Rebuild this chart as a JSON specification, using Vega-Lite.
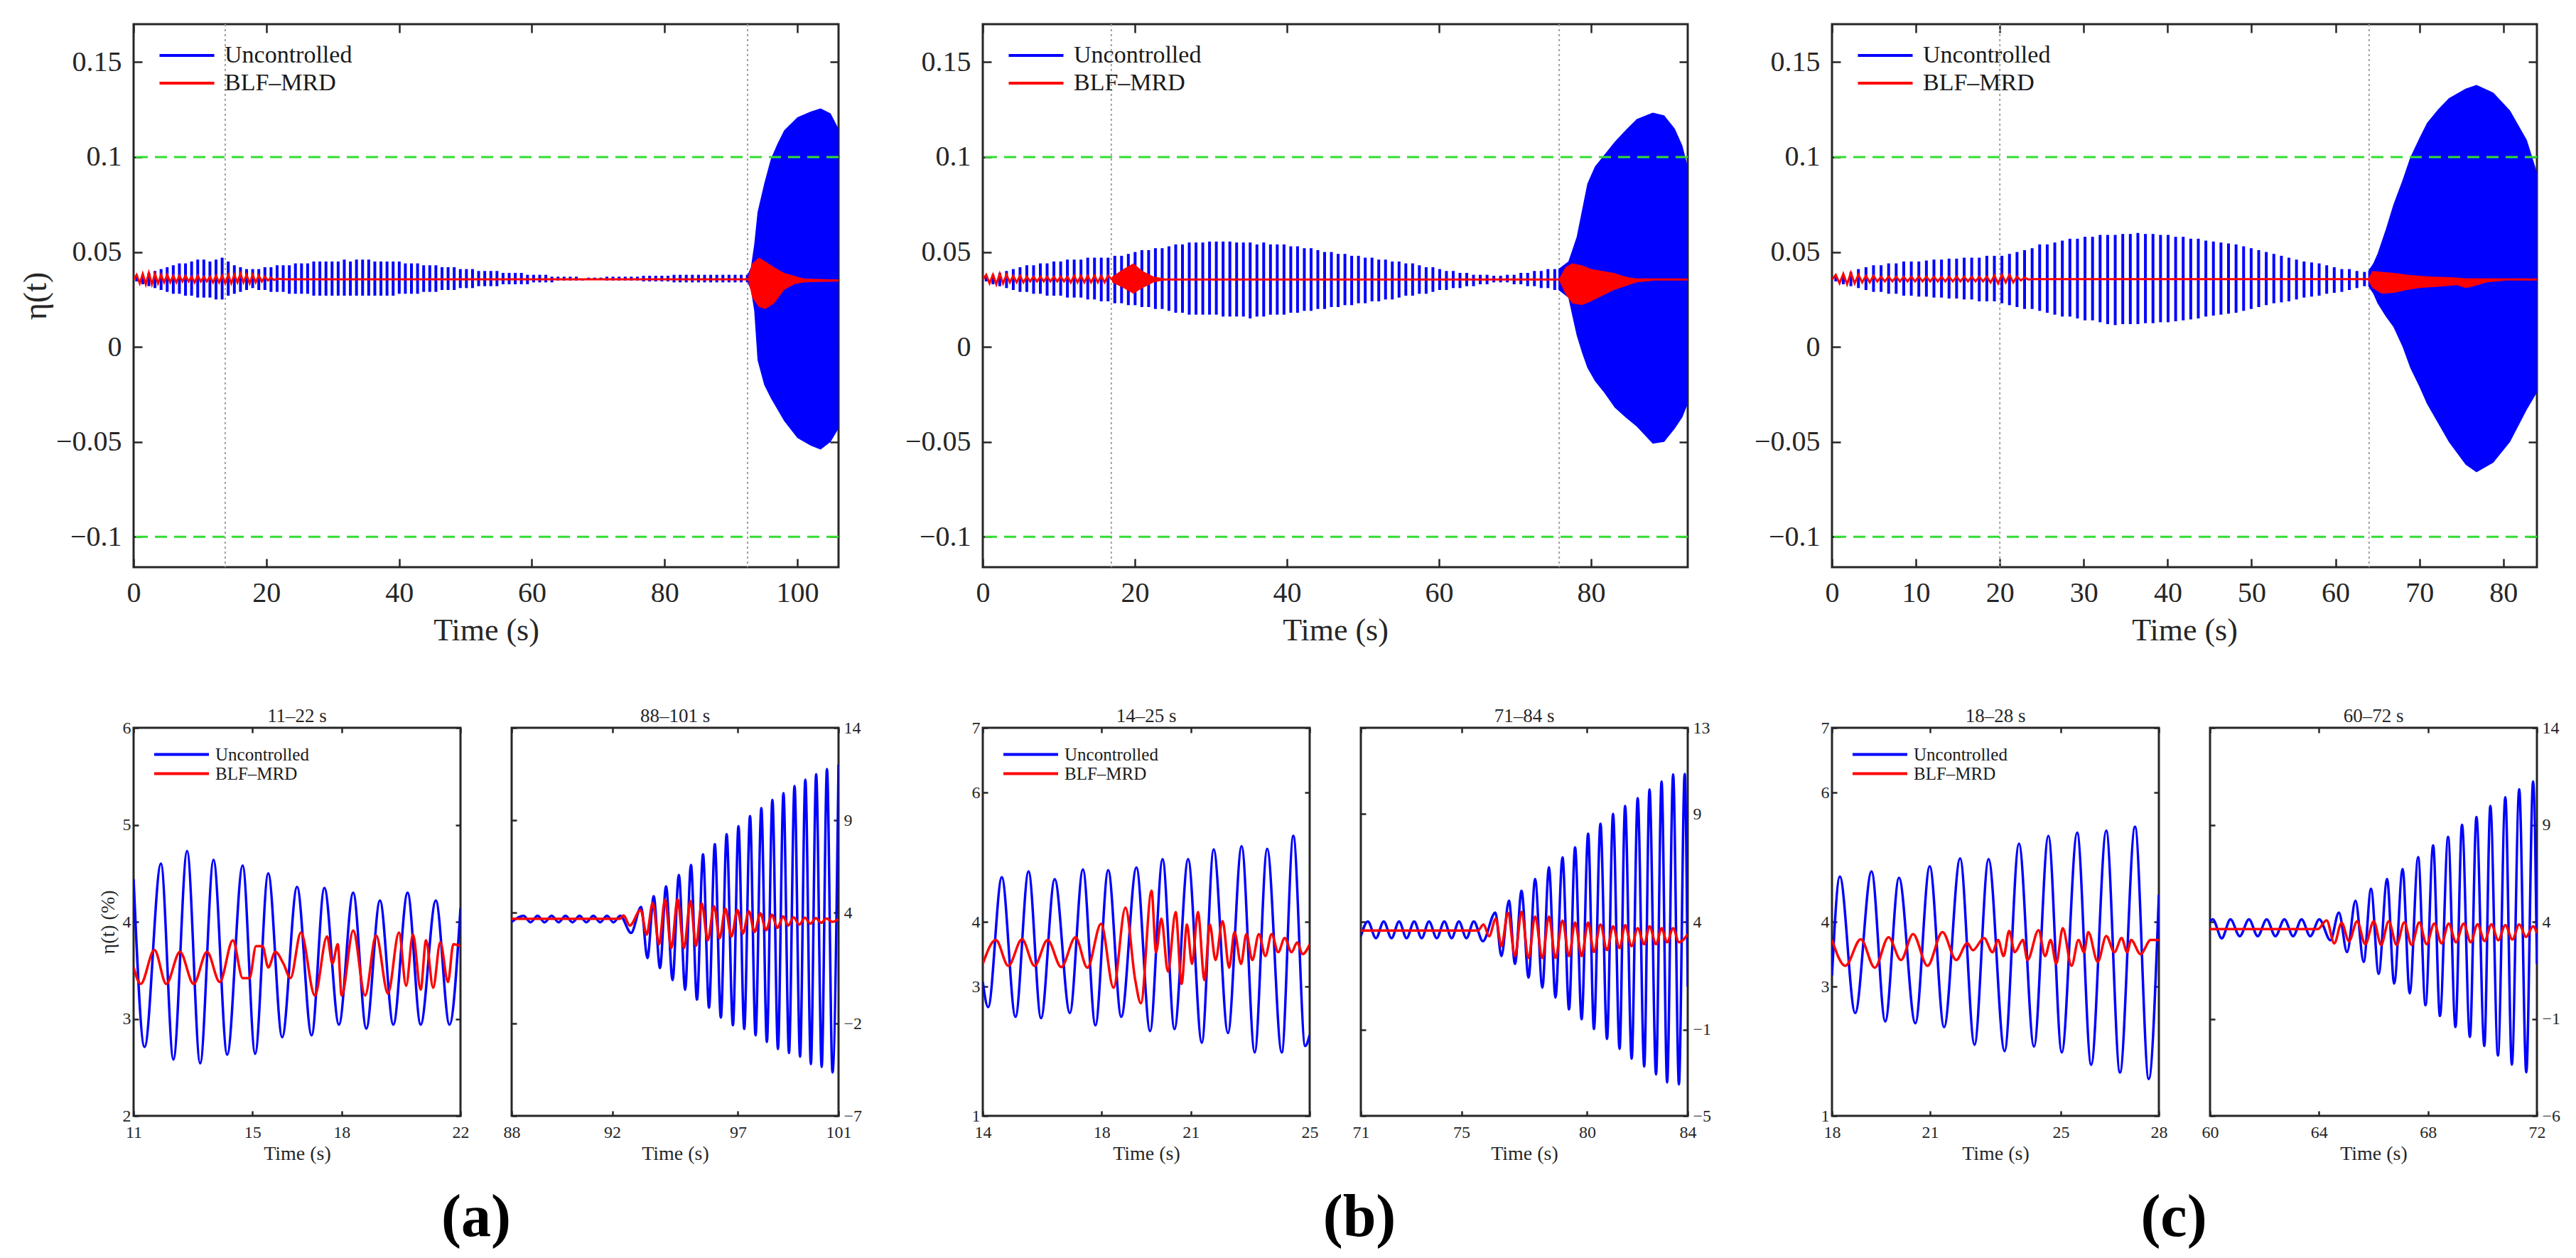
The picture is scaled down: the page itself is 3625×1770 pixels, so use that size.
{
"$schema":"https://vega.github.io/schema/vega-lite/v6.json",
"padding":{"left":25,"top":31,"right":10,"bottom":10},
"background":"white",
"bounds":"flush",
"spacing":990,
"config":{
 "view":{"stroke":"#262626","strokeWidth":3},
 "font":"Liberation Serif",
 "axis":{"grid":false,"domain":false,"labelFont":"Liberation Serif","titleFont":"Liberation Serif","labelColor":"#262626","titleColor":"#262626","tickColor":"#262626","tickWidth":2.5,"titleFontWeight":"normal","labelFlush":false,"labelOverlap":false},
 "legend":{"labelFont":"Liberation Serif","labelColor":"#1a1a1a","padding":0,"labelLimit":0},
 "title":{"font":"Liberation Serif","fontWeight":"normal","color":"#262626"}
},
"datasets":{
 "thr":[{"g":0.1},{"g":-0.1}],
 "vl":[{"p":"a","t":13.8},{"p":"a","t":92.5},{"p":"b","t":16.9},{"p":"b","t":75.8},{"p":"c","t":20},{"p":"c","t":64}],
 "bars":[
{"p":"a","t":0.46,"l":0.0345,"h":0.0375},{"p":"a","t":1.38,"l":0.033,"h":0.038},{"p":"a","t":2.30,"l":0.032,"h":0.039},{"p":"a","t":3.22,"l":0.031,"h":0.040},{"p":"a","t":4.14,"l":0.030,"h":0.041},{"p":"a","t":5.06,"l":0.029,"h":0.042},{"p":"a","t":5.98,"l":0.028,"h":0.043},{"p":"a","t":6.90,"l":0.028,"h":0.044},{"p":"a","t":7.82,"l":0.027,"h":0.044},{"p":"a","t":8.74,"l":0.027,"h":0.045},
{"p":"a","t":9.66,"l":0.026,"h":0.046},{"p":"a","t":10.58,"l":0.026,"h":0.046},{"p":"a","t":11.50,"l":0.026,"h":0.045},{"p":"a","t":12.42,"l":0.025,"h":0.046},{"p":"a","t":13.34,"l":0.025,"h":0.047},{"p":"a","t":14.26,"l":0.027,"h":0.045},{"p":"a","t":15.18,"l":0.028,"h":0.043},{"p":"a","t":16.10,"l":0.029,"h":0.042},{"p":"a","t":17.02,"l":0.030,"h":0.041},{"p":"a","t":17.94,"l":0.031,"h":0.041},
{"p":"a","t":18.86,"l":0.030,"h":0.041},{"p":"a","t":19.78,"l":0.030,"h":0.042},{"p":"a","t":20.70,"l":0.029,"h":0.042},{"p":"a","t":21.62,"l":0.029,"h":0.043},{"p":"a","t":22.54,"l":0.029,"h":0.043},{"p":"a","t":23.46,"l":0.028,"h":0.043},{"p":"a","t":24.38,"l":0.028,"h":0.044},{"p":"a","t":25.30,"l":0.028,"h":0.044},{"p":"a","t":26.22,"l":0.028,"h":0.044},{"p":"a","t":27.14,"l":0.027,"h":0.045},
{"p":"a","t":28.06,"l":0.027,"h":0.045},{"p":"a","t":28.98,"l":0.027,"h":0.045},{"p":"a","t":29.90,"l":0.027,"h":0.045},{"p":"a","t":30.82,"l":0.027,"h":0.045},{"p":"a","t":31.74,"l":0.027,"h":0.046},{"p":"a","t":32.66,"l":0.027,"h":0.045},{"p":"a","t":33.58,"l":0.027,"h":0.046},{"p":"a","t":34.50,"l":0.027,"h":0.046},{"p":"a","t":35.42,"l":0.027,"h":0.046},{"p":"a","t":36.34,"l":0.027,"h":0.045},
{"p":"a","t":37.26,"l":0.027,"h":0.045},{"p":"a","t":38.18,"l":0.027,"h":0.045},{"p":"a","t":39.10,"l":0.027,"h":0.045},{"p":"a","t":40.02,"l":0.028,"h":0.045},{"p":"a","t":40.94,"l":0.028,"h":0.044},{"p":"a","t":41.86,"l":0.028,"h":0.044},{"p":"a","t":42.78,"l":0.028,"h":0.044},{"p":"a","t":43.70,"l":0.029,"h":0.043},{"p":"a","t":44.62,"l":0.029,"h":0.043},{"p":"a","t":45.54,"l":0.029,"h":0.043},
{"p":"a","t":46.46,"l":0.030,"h":0.042},{"p":"a","t":47.38,"l":0.030,"h":0.042},{"p":"a","t":48.30,"l":0.030,"h":0.042},{"p":"a","t":49.22,"l":0.031,"h":0.041},{"p":"a","t":50.14,"l":0.031,"h":0.041},{"p":"a","t":51.06,"l":0.031,"h":0.041},{"p":"a","t":51.98,"l":0.032,"h":0.040},{"p":"a","t":52.90,"l":0.032,"h":0.040},{"p":"a","t":53.82,"l":0.032,"h":0.040},{"p":"a","t":54.74,"l":0.032,"h":0.040},
{"p":"a","t":55.66,"l":0.033,"h":0.039},{"p":"a","t":56.58,"l":0.033,"h":0.039},{"p":"a","t":57.50,"l":0.033,"h":0.039},{"p":"a","t":58.42,"l":0.033,"h":0.039},{"p":"a","t":59.34,"l":0.033,"h":0.038},{"p":"a","t":60.26,"l":0.034,"h":0.038},{"p":"a","t":61.18,"l":0.034,"h":0.038},{"p":"a","t":62.10,"l":0.034,"h":0.038},{"p":"a","t":63.02,"l":0.034,"h":0.037},{"p":"a","t":63.94,"l":0.035,"h":0.037},
{"p":"a","t":64.86,"l":0.035,"h":0.037},{"p":"a","t":65.78,"l":0.035,"h":0.037},{"p":"a","t":66.70,"l":0.035,"h":0.037},{"p":"a","t":67.62,"l":0.035,"h":0.036},{"p":"a","t":68.54,"l":0.0355,"h":0.0365},{"p":"a","t":69.46,"l":0.0355,"h":0.0365},{"p":"a","t":70.38,"l":0.0355,"h":0.0365},{"p":"a","t":71.30,"l":0.035,"h":0.037},{"p":"a","t":72.22,"l":0.035,"h":0.037},{"p":"a","t":73.14,"l":0.035,"h":0.037},
{"p":"a","t":74.06,"l":0.035,"h":0.037},{"p":"a","t":74.98,"l":0.035,"h":0.037},{"p":"a","t":75.90,"l":0.035,"h":0.037},{"p":"a","t":76.82,"l":0.0345,"h":0.0375},{"p":"a","t":77.74,"l":0.0345,"h":0.0375},{"p":"a","t":78.66,"l":0.0345,"h":0.0375},{"p":"a","t":79.58,"l":0.0345,"h":0.0375},{"p":"a","t":80.50,"l":0.0345,"h":0.0375},{"p":"a","t":81.42,"l":0.034,"h":0.038},{"p":"a","t":82.34,"l":0.034,"h":0.038},
{"p":"a","t":83.26,"l":0.034,"h":0.038},{"p":"a","t":84.18,"l":0.034,"h":0.038},{"p":"a","t":85.10,"l":0.034,"h":0.038},{"p":"a","t":86.02,"l":0.034,"h":0.038},{"p":"a","t":86.94,"l":0.034,"h":0.038},{"p":"a","t":87.86,"l":0.034,"h":0.038},{"p":"a","t":88.78,"l":0.034,"h":0.038},{"p":"a","t":89.70,"l":0.034,"h":0.038},{"p":"a","t":90.62,"l":0.034,"h":0.038},{"p":"a","t":91.54,"l":0.034,"h":0.038},{"p":"a","t":92.46,"l":0.034,"h":0.038},
{"p":"b","t":0.45,"l":0.0345,"h":0.0375},{"p":"b","t":1.34,"l":0.033,"h":0.038},{"p":"b","t":2.23,"l":0.032,"h":0.039},{"p":"b","t":3.12,"l":0.031,"h":0.040},{"p":"b","t":4.01,"l":0.030,"h":0.041},{"p":"b","t":4.90,"l":0.029,"h":0.042},{"p":"b","t":5.79,"l":0.029,"h":0.043},{"p":"b","t":6.68,"l":0.028,"h":0.043},{"p":"b","t":7.57,"l":0.028,"h":0.044},{"p":"b","t":8.46,"l":0.027,"h":0.044},
{"p":"b","t":9.35,"l":0.027,"h":0.045},{"p":"b","t":10.24,"l":0.027,"h":0.045},{"p":"b","t":11.13,"l":0.026,"h":0.046},{"p":"b","t":12.02,"l":0.026,"h":0.046},{"p":"b","t":12.91,"l":0.026,"h":0.046},{"p":"b","t":13.80,"l":0.025,"h":0.047},{"p":"b","t":14.69,"l":0.025,"h":0.047},{"p":"b","t":15.58,"l":0.024,"h":0.047},{"p":"b","t":16.47,"l":0.024,"h":0.047},{"p":"b","t":17.36,"l":0.023,"h":0.048},
{"p":"b","t":18.25,"l":0.023,"h":0.048},{"p":"b","t":19.14,"l":0.022,"h":0.049},{"p":"b","t":20.03,"l":0.022,"h":0.050},{"p":"b","t":20.92,"l":0.021,"h":0.051},{"p":"b","t":21.81,"l":0.021,"h":0.051},{"p":"b","t":22.70,"l":0.020,"h":0.052},{"p":"b","t":23.59,"l":0.020,"h":0.052},{"p":"b","t":24.48,"l":0.019,"h":0.053},{"p":"b","t":25.37,"l":0.018,"h":0.054},{"p":"b","t":26.26,"l":0.018,"h":0.054},
{"p":"b","t":27.15,"l":0.017,"h":0.055},{"p":"b","t":28.04,"l":0.017,"h":0.055},{"p":"b","t":28.93,"l":0.017,"h":0.055},{"p":"b","t":29.82,"l":0.017,"h":0.0555},{"p":"b","t":30.71,"l":0.017,"h":0.0555},{"p":"b","t":31.60,"l":0.016,"h":0.0555},{"p":"b","t":32.49,"l":0.016,"h":0.0555},{"p":"b","t":33.38,"l":0.016,"h":0.055},{"p":"b","t":34.27,"l":0.016,"h":0.055},{"p":"b","t":35.16,"l":0.015,"h":0.055},
{"p":"b","t":36.05,"l":0.016,"h":0.054},{"p":"b","t":36.94,"l":0.016,"h":0.055},{"p":"b","t":37.83,"l":0.017,"h":0.054},{"p":"b","t":38.72,"l":0.017,"h":0.054},{"p":"b","t":39.61,"l":0.017,"h":0.054},{"p":"b","t":40.50,"l":0.018,"h":0.053},{"p":"b","t":41.39,"l":0.018,"h":0.053},{"p":"b","t":42.28,"l":0.019,"h":0.052},{"p":"b","t":43.17,"l":0.019,"h":0.052},{"p":"b","t":44.06,"l":0.020,"h":0.051},
{"p":"b","t":44.95,"l":0.020,"h":0.050},{"p":"b","t":45.84,"l":0.021,"h":0.050},{"p":"b","t":46.73,"l":0.021,"h":0.049},{"p":"b","t":47.62,"l":0.022,"h":0.049},{"p":"b","t":48.51,"l":0.022,"h":0.048},{"p":"b","t":49.40,"l":0.023,"h":0.048},{"p":"b","t":50.29,"l":0.023,"h":0.047},{"p":"b","t":51.18,"l":0.024,"h":0.047},{"p":"b","t":52.07,"l":0.024,"h":0.046},{"p":"b","t":52.96,"l":0.025,"h":0.046},
{"p":"b","t":53.85,"l":0.025,"h":0.045},{"p":"b","t":54.74,"l":0.026,"h":0.045},{"p":"b","t":55.63,"l":0.027,"h":0.044},{"p":"b","t":56.52,"l":0.027,"h":0.044},{"p":"b","t":57.41,"l":0.028,"h":0.043},{"p":"b","t":58.30,"l":0.028,"h":0.042},{"p":"b","t":59.19,"l":0.029,"h":0.042},{"p":"b","t":60.08,"l":0.030,"h":0.041},{"p":"b","t":60.97,"l":0.030,"h":0.040},{"p":"b","t":61.86,"l":0.031,"h":0.040},
{"p":"b","t":62.75,"l":0.031,"h":0.039},{"p":"b","t":63.64,"l":0.032,"h":0.039},{"p":"b","t":64.53,"l":0.032,"h":0.038},{"p":"b","t":65.42,"l":0.033,"h":0.038},{"p":"b","t":66.31,"l":0.033,"h":0.038},{"p":"b","t":67.20,"l":0.034,"h":0.0375},{"p":"b","t":68.09,"l":0.034,"h":0.0375},{"p":"b","t":68.98,"l":0.034,"h":0.038},{"p":"b","t":69.87,"l":0.033,"h":0.038},{"p":"b","t":70.76,"l":0.033,"h":0.039},
{"p":"b","t":71.65,"l":0.032,"h":0.039},{"p":"b","t":72.54,"l":0.032,"h":0.040},{"p":"b","t":73.43,"l":0.031,"h":0.040},{"p":"b","t":74.32,"l":0.031,"h":0.041},{"p":"b","t":75.21,"l":0.030,"h":0.041},
{"p":"c","t":0.45,"l":0.0345,"h":0.037},{"p":"c","t":1.35,"l":0.033,"h":0.038},{"p":"c","t":2.25,"l":0.032,"h":0.0395},{"p":"c","t":3.15,"l":0.031,"h":0.041},{"p":"c","t":4.05,"l":0.030,"h":0.042},{"p":"c","t":4.95,"l":0.029,"h":0.043},{"p":"c","t":5.85,"l":0.029,"h":0.043},{"p":"c","t":6.75,"l":0.028,"h":0.044},{"p":"c","t":7.65,"l":0.028,"h":0.044},{"p":"c","t":8.55,"l":0.027,"h":0.045},
{"p":"c","t":9.45,"l":0.027,"h":0.045},{"p":"c","t":10.35,"l":0.0265,"h":0.045},{"p":"c","t":11.25,"l":0.0265,"h":0.0455},{"p":"c","t":12.15,"l":0.026,"h":0.046},{"p":"c","t":13.05,"l":0.026,"h":0.046},{"p":"c","t":13.95,"l":0.0255,"h":0.0465},{"p":"c","t":14.85,"l":0.0255,"h":0.0465},{"p":"c","t":15.75,"l":0.025,"h":0.047},{"p":"c","t":16.65,"l":0.025,"h":0.047},{"p":"c","t":17.55,"l":0.024,"h":0.047},
{"p":"c","t":18.45,"l":0.024,"h":0.048},{"p":"c","t":19.35,"l":0.024,"h":0.048},{"p":"c","t":20.25,"l":0.023,"h":0.048},{"p":"c","t":21.15,"l":0.022,"h":0.049},{"p":"c","t":22.05,"l":0.021,"h":0.050},{"p":"c","t":22.95,"l":0.020,"h":0.051},{"p":"c","t":23.85,"l":0.020,"h":0.052},{"p":"c","t":24.75,"l":0.019,"h":0.054},{"p":"c","t":25.65,"l":0.018,"h":0.054},{"p":"c","t":26.55,"l":0.017,"h":0.055},
{"p":"c","t":27.45,"l":0.016,"h":0.056},{"p":"c","t":28.35,"l":0.016,"h":0.057},{"p":"c","t":29.25,"l":0.015,"h":0.057},{"p":"c","t":30.15,"l":0.014,"h":0.058},{"p":"c","t":31.05,"l":0.014,"h":0.058},{"p":"c","t":31.95,"l":0.013,"h":0.059},{"p":"c","t":32.85,"l":0.012,"h":0.059},{"p":"c","t":33.75,"l":0.0115,"h":0.059},{"p":"c","t":34.65,"l":0.012,"h":0.0595},{"p":"c","t":35.55,"l":0.012,"h":0.0595},
{"p":"c","t":36.45,"l":0.012,"h":0.060},{"p":"c","t":37.35,"l":0.0125,"h":0.0595},{"p":"c","t":38.25,"l":0.0125,"h":0.0595},{"p":"c","t":39.15,"l":0.013,"h":0.059},{"p":"c","t":40.05,"l":0.013,"h":0.059},{"p":"c","t":40.95,"l":0.0135,"h":0.058},{"p":"c","t":41.85,"l":0.014,"h":0.058},{"p":"c","t":42.75,"l":0.0145,"h":0.057},{"p":"c","t":43.65,"l":0.015,"h":0.057},{"p":"c","t":44.55,"l":0.016,"h":0.056},
{"p":"c","t":45.45,"l":0.0165,"h":0.0555},{"p":"c","t":46.35,"l":0.017,"h":0.055},{"p":"c","t":47.25,"l":0.0175,"h":0.0545},{"p":"c","t":48.15,"l":0.018,"h":0.054},{"p":"c","t":49.05,"l":0.019,"h":0.053},{"p":"c","t":49.95,"l":0.020,"h":0.052},{"p":"c","t":50.85,"l":0.021,"h":0.051},{"p":"c","t":51.75,"l":0.022,"h":0.050},{"p":"c","t":52.65,"l":0.023,"h":0.049},{"p":"c","t":53.55,"l":0.0235,"h":0.048},
{"p":"c","t":54.45,"l":0.024,"h":0.047},{"p":"c","t":55.35,"l":0.025,"h":0.046},{"p":"c","t":56.25,"l":0.026,"h":0.045},{"p":"c","t":57.15,"l":0.0265,"h":0.0445},{"p":"c","t":58.05,"l":0.027,"h":0.044},{"p":"c","t":58.95,"l":0.028,"h":0.043},{"p":"c","t":59.85,"l":0.0285,"h":0.042},{"p":"c","t":60.75,"l":0.029,"h":0.041},{"p":"c","t":61.65,"l":0.030,"h":0.041},{"p":"c","t":62.55,"l":0.031,"h":0.040},
{"p":"c","t":63.45,"l":0.032,"h":0.0395}
 ],
 "env":[
{"p":"a","s":"b","t":92.5,"l":0.034,"h":0.038},{"p":"a","s":"b","t":93,"l":0.030,"h":0.042},{"p":"a","s":"b","t":93.5,"l":0.019,"h":0.054},{"p":"a","s":"b","t":94,"l":-0.007,"h":0.071},{"p":"a","s":"b","t":95,"l":-0.020,"h":0.086},{"p":"a","s":"b","t":96,"l":-0.027,"h":0.099},{"p":"a","s":"b","t":97,"l":-0.033,"h":0.107},{"p":"a","s":"b","t":98,"l":-0.039,"h":0.114},{"p":"a","s":"b","t":100,"l":-0.048,"h":0.121},{"p":"a","s":"b","t":102,"l":-0.052,"h":0.124},{"p":"a","s":"b","t":103.5,"l":-0.054,"h":0.1256},{"p":"a","s":"b","t":105,"l":-0.050,"h":0.123},{"p":"a","s":"b","t":106.2,"l":-0.043,"h":0.115},
{"p":"a","s":"r1","t":92.6,"l":0.035,"h":0.037},{"p":"a","s":"r1","t":93.2,"l":0.026,"h":0.044},{"p":"a","s":"r1","t":94.2,"l":0.021,"h":0.047},{"p":"a","s":"r1","t":95.2,"l":0.020,"h":0.045},{"p":"a","s":"r1","t":96.5,"l":0.023,"h":0.042},{"p":"a","s":"r1","t":98,"l":0.030,"h":0.039},{"p":"a","s":"r1","t":99.5,"l":0.033,"h":0.0375},{"p":"a","s":"r1","t":101,"l":0.034,"h":0.036},{"p":"a","s":"r1","t":106.2,"l":0.0345,"h":0.0355},
{"p":"b","s":"b","t":75.7,"l":0.030,"h":0.041},{"p":"b","s":"b","t":77.0,"l":0.026,"h":0.045},{"p":"b","s":"b","t":77.6,"l":0.015,"h":0.052},{"p":"b","s":"b","t":78.1,"l":0.006,"h":0.058},{"p":"b","s":"b","t":78.8,"l":-0.003,"h":0.072},{"p":"b","s":"b","t":79.5,"l":-0.011,"h":0.086},{"p":"b","s":"b","t":80.5,"l":-0.018,"h":0.095},{"p":"b","s":"b","t":81.7,"l":-0.024,"h":0.101},{"p":"b","s":"b","t":83.1,"l":-0.032,"h":0.108},{"p":"b","s":"b","t":84.5,"l":-0.037,"h":0.114},{"p":"b","s":"b","t":86,"l":-0.042,"h":0.120},{"p":"b","s":"b","t":88.1,"l":-0.051,"h":0.1234},{"p":"b","s":"b","t":89.6,"l":-0.050,"h":0.122},{"p":"b","s":"b","t":91,"l":-0.043,"h":0.115},{"p":"b","s":"b","t":92,"l":-0.037,"h":0.106},{"p":"b","s":"b","t":92.7,"l":-0.030,"h":0.095},
{"p":"b","s":"r1","t":17.0,"l":0.034,"h":0.037},{"p":"b","s":"r1","t":18.5,"l":0.031,"h":0.041},{"p":"b","s":"r1","t":19.8,"l":0.028,"h":0.044},{"p":"b","s":"r1","t":21.0,"l":0.031,"h":0.040},{"p":"b","s":"r1","t":22.5,"l":0.034,"h":0.037},{"p":"b","s":"r1","t":24.0,"l":0.0352,"h":0.036},
{"p":"b","s":"r2","t":75.8,"l":0.035,"h":0.036},{"p":"b","s":"r2","t":76.6,"l":0.028,"h":0.042},{"p":"b","s":"r2","t":77.5,"l":0.023,"h":0.044},{"p":"b","s":"r2","t":78.8,"l":0.022,"h":0.043},{"p":"b","s":"r2","t":80.0,"l":0.024,"h":0.041},{"p":"b","s":"r2","t":81.5,"l":0.027,"h":0.040},{"p":"b","s":"r2","t":83.0,"l":0.030,"h":0.039},{"p":"b","s":"r2","t":84.5,"l":0.032,"h":0.037},{"p":"b","s":"r2","t":86.0,"l":0.034,"h":0.036},{"p":"b","s":"r2","t":88.0,"l":0.0348,"h":0.0356},
{"p":"c","s":"b","t":63.9,"l":0.032,"h":0.040},{"p":"c","s":"b","t":64.5,"l":0.028,"h":0.044},{"p":"c","s":"b","t":65.0,"l":0.023,"h":0.049},{"p":"c","s":"b","t":66.0,"l":0.016,"h":0.062},{"p":"c","s":"b","t":66.9,"l":0.0105,"h":0.075},{"p":"c","s":"b","t":68.0,"l":0.000,"h":0.088},{"p":"c","s":"b","t":68.9,"l":-0.011,"h":0.0997},{"p":"c","s":"b","t":70.0,"l":-0.021,"h":0.110},{"p":"c","s":"b","t":70.9,"l":-0.030,"h":0.118},{"p":"c","s":"b","t":72.2,"l":-0.040,"h":0.125},{"p":"c","s":"b","t":73.5,"l":-0.050,"h":0.131},{"p":"c","s":"b","t":75.5,"l":-0.062,"h":0.136},{"p":"c","s":"b","t":76.8,"l":-0.066,"h":0.138},{"p":"c","s":"b","t":78.8,"l":-0.061,"h":0.134},{"p":"c","s":"b","t":80.8,"l":-0.050,"h":0.1245},{"p":"c","s":"b","t":82.8,"l":-0.033,"h":0.109},{"p":"c","s":"b","t":84,"l":-0.024,"h":0.092},
{"p":"c","s":"r1","t":63.9,"l":0.035,"h":0.036},{"p":"c","s":"r1","t":64.4,"l":0.031,"h":0.040},{"p":"c","s":"r1","t":65.5,"l":0.028,"h":0.0395},{"p":"c","s":"r1","t":67.0,"l":0.0285,"h":0.039},{"p":"c","s":"r1","t":68.5,"l":0.030,"h":0.038},{"p":"c","s":"r1","t":70.0,"l":0.031,"h":0.0375},{"p":"c","s":"r1","t":71.5,"l":0.0315,"h":0.037},{"p":"c","s":"r1","t":73.0,"l":0.032,"h":0.0368},{"p":"c","s":"r1","t":74.5,"l":0.0325,"h":0.0365},{"p":"c","s":"r1","t":75.5,"l":0.031,"h":0.036},{"p":"c","s":"r1","t":76.5,"l":0.032,"h":0.0358},{"p":"c","s":"r1","t":78.0,"l":0.034,"h":0.0356},{"p":"c","s":"r1","t":80.0,"l":0.0348,"h":0.0355}
 ],
 "rl":[
{"p":"a","s":"BLF–MRD","t":0,"v":0.0355},{"p":"a","s":"BLF–MRD","t":0.46,"v":0.038},{"p":"a","s":"BLF–MRD","t":0.92,"v":0.0335},{"p":"a","s":"BLF–MRD","t":1.38,"v":0.0385},{"p":"a","s":"BLF–MRD","t":1.84,"v":0.033},{"p":"a","s":"BLF–MRD","t":2.30,"v":0.039},{"p":"a","s":"BLF–MRD","t":2.76,"v":0.033},{"p":"a","s":"BLF–MRD","t":3.22,"v":0.0385},{"p":"a","s":"BLF–MRD","t":3.68,"v":0.0335},{"p":"a","s":"BLF–MRD","t":4.14,"v":0.038},
{"p":"a","s":"BLF–MRD","t":4.60,"v":0.034},{"p":"a","s":"BLF–MRD","t":5.06,"v":0.038},{"p":"a","s":"BLF–MRD","t":5.52,"v":0.034},{"p":"a","s":"BLF–MRD","t":5.98,"v":0.0375},{"p":"a","s":"BLF–MRD","t":6.44,"v":0.034},{"p":"a","s":"BLF–MRD","t":6.90,"v":0.0375},{"p":"a","s":"BLF–MRD","t":7.36,"v":0.0345},{"p":"a","s":"BLF–MRD","t":7.82,"v":0.0375},{"p":"a","s":"BLF–MRD","t":8.28,"v":0.0345},{"p":"a","s":"BLF–MRD","t":8.74,"v":0.037},
{"p":"a","s":"BLF–MRD","t":9.20,"v":0.034},{"p":"a","s":"BLF–MRD","t":9.66,"v":0.0375},{"p":"a","s":"BLF–MRD","t":10.12,"v":0.0345},{"p":"a","s":"BLF–MRD","t":10.58,"v":0.037},{"p":"a","s":"BLF–MRD","t":11.04,"v":0.0345},{"p":"a","s":"BLF–MRD","t":11.50,"v":0.037},{"p":"a","s":"BLF–MRD","t":11.96,"v":0.034},{"p":"a","s":"BLF–MRD","t":12.42,"v":0.0375},{"p":"a","s":"BLF–MRD","t":12.88,"v":0.034},{"p":"a","s":"BLF–MRD","t":13.34,"v":0.0375},
{"p":"a","s":"BLF–MRD","t":13.80,"v":0.0335},{"p":"a","s":"BLF–MRD","t":14.26,"v":0.038},{"p":"a","s":"BLF–MRD","t":14.72,"v":0.0335},{"p":"a","s":"BLF–MRD","t":15.18,"v":0.038},{"p":"a","s":"BLF–MRD","t":15.64,"v":0.034},{"p":"a","s":"BLF–MRD","t":16.10,"v":0.0385},{"p":"a","s":"BLF–MRD","t":16.56,"v":0.034},{"p":"a","s":"BLF–MRD","t":17.02,"v":0.038},{"p":"a","s":"BLF–MRD","t":17.48,"v":0.0335},{"p":"a","s":"BLF–MRD","t":17.94,"v":0.038},
{"p":"a","s":"BLF–MRD","t":18.40,"v":0.034},{"p":"a","s":"BLF–MRD","t":18.86,"v":0.0375},{"p":"a","s":"BLF–MRD","t":19.32,"v":0.0345},{"p":"a","s":"BLF–MRD","t":19.78,"v":0.037},{"p":"a","s":"BLF–MRD","t":20.24,"v":0.035},{"p":"a","s":"BLF–MRD","t":20.70,"v":0.0365},{"p":"a","s":"BLF–MRD","t":21.16,"v":0.0352},{"p":"a","s":"BLF–MRD","t":21.62,"v":0.036},{"p":"a","s":"BLF–MRD","t":22.5,"v":0.0356},{"p":"a","s":"BLF–MRD","t":92.5,"v":0.0356},{"p":"a","s":"BLF–MRD","t":106.2,"v":0.035},
{"p":"b","s":"BLF–MRD","t":0,"v":0.0355},{"p":"b","s":"BLF–MRD","t":0.45,"v":0.038},{"p":"b","s":"BLF–MRD","t":0.89,"v":0.0335},{"p":"b","s":"BLF–MRD","t":1.34,"v":0.038},{"p":"b","s":"BLF–MRD","t":1.78,"v":0.033},{"p":"b","s":"BLF–MRD","t":2.23,"v":0.0385},{"p":"b","s":"BLF–MRD","t":2.67,"v":0.0335},{"p":"b","s":"BLF–MRD","t":3.12,"v":0.038},{"p":"b","s":"BLF–MRD","t":3.56,"v":0.034},{"p":"b","s":"BLF–MRD","t":4.01,"v":0.0375},
{"p":"b","s":"BLF–MRD","t":4.45,"v":0.034},{"p":"b","s":"BLF–MRD","t":4.90,"v":0.0375},{"p":"b","s":"BLF–MRD","t":5.34,"v":0.034},{"p":"b","s":"BLF–MRD","t":5.79,"v":0.037},{"p":"b","s":"BLF–MRD","t":6.23,"v":0.0345},{"p":"b","s":"BLF–MRD","t":6.68,"v":0.037},{"p":"b","s":"BLF–MRD","t":7.12,"v":0.0345},{"p":"b","s":"BLF–MRD","t":7.57,"v":0.037},{"p":"b","s":"BLF–MRD","t":8.01,"v":0.0345},{"p":"b","s":"BLF–MRD","t":8.46,"v":0.037},
{"p":"b","s":"BLF–MRD","t":8.90,"v":0.0345},{"p":"b","s":"BLF–MRD","t":9.35,"v":0.037},{"p":"b","s":"BLF–MRD","t":9.79,"v":0.0345},{"p":"b","s":"BLF–MRD","t":10.24,"v":0.037},{"p":"b","s":"BLF–MRD","t":10.68,"v":0.0345},{"p":"b","s":"BLF–MRD","t":11.13,"v":0.037},{"p":"b","s":"BLF–MRD","t":11.57,"v":0.034},{"p":"b","s":"BLF–MRD","t":12.02,"v":0.0375},{"p":"b","s":"BLF–MRD","t":12.46,"v":0.034},{"p":"b","s":"BLF–MRD","t":12.91,"v":0.0375},
{"p":"b","s":"BLF–MRD","t":13.35,"v":0.034},{"p":"b","s":"BLF–MRD","t":13.80,"v":0.0375},{"p":"b","s":"BLF–MRD","t":14.24,"v":0.034},{"p":"b","s":"BLF–MRD","t":14.69,"v":0.0375},{"p":"b","s":"BLF–MRD","t":15.13,"v":0.034},{"p":"b","s":"BLF–MRD","t":15.58,"v":0.0375},{"p":"b","s":"BLF–MRD","t":16.02,"v":0.034},{"p":"b","s":"BLF–MRD","t":16.47,"v":0.0375},{"p":"b","s":"BLF–MRD","t":17.0,"v":0.0355},{"p":"b","s":"BLF–MRD","t":24.0,"v":0.0355},{"p":"b","s":"BLF–MRD","t":92.7,"v":0.0355},
{"p":"c","s":"BLF–MRD","t":0,"v":0.0355},{"p":"c","s":"BLF–MRD","t":0.45,"v":0.038},{"p":"c","s":"BLF–MRD","t":0.9,"v":0.0335},{"p":"c","s":"BLF–MRD","t":1.35,"v":0.0385},{"p":"c","s":"BLF–MRD","t":1.8,"v":0.033},{"p":"c","s":"BLF–MRD","t":2.25,"v":0.039},{"p":"c","s":"BLF–MRD","t":2.7,"v":0.0335},{"p":"c","s":"BLF–MRD","t":3.15,"v":0.038},{"p":"c","s":"BLF–MRD","t":3.6,"v":0.034},{"p":"c","s":"BLF–MRD","t":4.05,"v":0.0375},
{"p":"c","s":"BLF–MRD","t":4.5,"v":0.034},{"p":"c","s":"BLF–MRD","t":4.95,"v":0.0375},{"p":"c","s":"BLF–MRD","t":5.4,"v":0.0345},{"p":"c","s":"BLF–MRD","t":5.85,"v":0.037},{"p":"c","s":"BLF–MRD","t":6.3,"v":0.0345},{"p":"c","s":"BLF–MRD","t":6.75,"v":0.037},{"p":"c","s":"BLF–MRD","t":7.2,"v":0.0345},{"p":"c","s":"BLF–MRD","t":7.65,"v":0.037},{"p":"c","s":"BLF–MRD","t":8.1,"v":0.0345},{"p":"c","s":"BLF–MRD","t":8.55,"v":0.037},
{"p":"c","s":"BLF–MRD","t":9.0,"v":0.0345},{"p":"c","s":"BLF–MRD","t":9.45,"v":0.037},{"p":"c","s":"BLF–MRD","t":9.9,"v":0.0345},{"p":"c","s":"BLF–MRD","t":10.35,"v":0.037},{"p":"c","s":"BLF–MRD","t":10.8,"v":0.0345},{"p":"c","s":"BLF–MRD","t":11.25,"v":0.037},{"p":"c","s":"BLF–MRD","t":11.7,"v":0.0345},{"p":"c","s":"BLF–MRD","t":12.15,"v":0.037},{"p":"c","s":"BLF–MRD","t":12.6,"v":0.0345},{"p":"c","s":"BLF–MRD","t":13.05,"v":0.037},
{"p":"c","s":"BLF–MRD","t":13.5,"v":0.0345},{"p":"c","s":"BLF–MRD","t":13.95,"v":0.037},{"p":"c","s":"BLF–MRD","t":14.4,"v":0.0345},{"p":"c","s":"BLF–MRD","t":14.85,"v":0.037},{"p":"c","s":"BLF–MRD","t":15.3,"v":0.0345},{"p":"c","s":"BLF–MRD","t":15.75,"v":0.037},{"p":"c","s":"BLF–MRD","t":16.2,"v":0.0345},{"p":"c","s":"BLF–MRD","t":16.65,"v":0.037},{"p":"c","s":"BLF–MRD","t":17.1,"v":0.0345},{"p":"c","s":"BLF–MRD","t":17.55,"v":0.037},
{"p":"c","s":"BLF–MRD","t":18.0,"v":0.0345},{"p":"c","s":"BLF–MRD","t":18.45,"v":0.037},{"p":"c","s":"BLF–MRD","t":18.9,"v":0.034},{"p":"c","s":"BLF–MRD","t":19.35,"v":0.0375},{"p":"c","s":"BLF–MRD","t":19.8,"v":0.0335},{"p":"c","s":"BLF–MRD","t":20.25,"v":0.038},{"p":"c","s":"BLF–MRD","t":20.7,"v":0.034},{"p":"c","s":"BLF–MRD","t":21.15,"v":0.038},{"p":"c","s":"BLF–MRD","t":21.6,"v":0.034},{"p":"c","s":"BLF–MRD","t":22.05,"v":0.037},
{"p":"c","s":"BLF–MRD","t":22.5,"v":0.035},{"p":"c","s":"BLF–MRD","t":22.95,"v":0.0365},{"p":"c","s":"BLF–MRD","t":23.4,"v":0.0355},{"p":"c","s":"BLF–MRD","t":24,"v":0.0357},{"p":"c","s":"BLF–MRD","t":63.9,"v":0.0357},{"p":"c","s":"BLF–MRD","t":84,"v":0.0355}
 ],
 "sm":[
{"p":"a1","s":"Uncontrolled","t":11.00,"v":4.44},{"p":"a1","s":"Uncontrolled","t":11.37,"v":2.71},{"p":"a1","s":"Uncontrolled","t":11.92,"v":4.60},{"p":"a1","s":"Uncontrolled","t":12.34,"v":2.58},{"p":"a1","s":"Uncontrolled","t":12.80,"v":4.73},{"p":"a1","s":"Uncontrolled","t":13.24,"v":2.54},{"p":"a1","s":"Uncontrolled","t":13.69,"v":4.64},{"p":"a1","s":"Uncontrolled","t":14.15,"v":2.63},{"p":"a1","s":"Uncontrolled","t":14.67,"v":4.58},{"p":"a1","s":"Uncontrolled","t":15.09,"v":2.64},
{"p":"a1","s":"Uncontrolled","t":15.53,"v":4.50},{"p":"a1","s":"Uncontrolled","t":16.00,"v":2.81},{"p":"a1","s":"Uncontrolled","t":16.50,"v":4.36},{"p":"a1","s":"Uncontrolled","t":16.99,"v":2.83},{"p":"a1","s":"Uncontrolled","t":17.42,"v":4.35},{"p":"a1","s":"Uncontrolled","t":17.91,"v":2.94},{"p":"a1","s":"Uncontrolled","t":18.39,"v":4.30},{"p":"a1","s":"Uncontrolled","t":18.83,"v":2.90},{"p":"a1","s":"Uncontrolled","t":19.29,"v":4.22},{"p":"a1","s":"Uncontrolled","t":19.74,"v":2.94},
{"p":"a1","s":"Uncontrolled","t":20.22,"v":4.30},{"p":"a1","s":"Uncontrolled","t":20.66,"v":2.94},{"p":"a1","s":"Uncontrolled","t":21.17,"v":4.22},{"p":"a1","s":"Uncontrolled","t":21.63,"v":2.94},{"p":"a1","s":"Uncontrolled","t":22.00,"v":4.14},
{"p":"a1","s":"BLF–MRD","t":11.00,"v":3.53},{"p":"a1","s":"BLF–MRD","t":11.24,"v":3.36},{"p":"a1","s":"BLF–MRD","t":11.70,"v":3.71},{"p":"a1","s":"BLF–MRD","t":12.10,"v":3.36},{"p":"a1","s":"BLF–MRD","t":12.56,"v":3.69},{"p":"a1","s":"BLF–MRD","t":13.02,"v":3.36},{"p":"a1","s":"BLF–MRD","t":13.47,"v":3.69},{"p":"a1","s":"BLF–MRD","t":13.90,"v":3.38},{"p":"a1","s":"BLF–MRD","t":14.34,"v":3.81},{"p":"a1","s":"BLF–MRD","t":14.67,"v":3.42},
{"p":"a1","s":"BLF–MRD","t":14.90,"v":3.42},{"p":"a1","s":"BLF–MRD","t":15.12,"v":3.75},{"p":"a1","s":"BLF–MRD","t":15.34,"v":3.75},{"p":"a1","s":"BLF–MRD","t":15.53,"v":3.53},{"p":"a1","s":"BLF–MRD","t":15.77,"v":3.69},{"p":"a1","s":"BLF–MRD","t":16.04,"v":3.57},{"p":"a1","s":"BLF–MRD","t":16.28,"v":3.42},{"p":"a1","s":"BLF–MRD","t":16.63,"v":3.89},{"p":"a1","s":"BLF–MRD","t":17.10,"v":3.24},{"p":"a1","s":"BLF–MRD","t":17.51,"v":3.85},
{"p":"a1","s":"BLF–MRD","t":17.69,"v":3.57},{"p":"a1","s":"BLF–MRD","t":17.87,"v":3.77},{"p":"a1","s":"BLF–MRD","t":18.00,"v":3.24},{"p":"a1","s":"BLF–MRD","t":18.39,"v":3.91},{"p":"a1","s":"BLF–MRD","t":18.79,"v":3.24},{"p":"a1","s":"BLF–MRD","t":19.16,"v":3.86},{"p":"a1","s":"BLF–MRD","t":19.56,"v":3.26},{"p":"a1","s":"BLF–MRD","t":19.93,"v":3.89},{"p":"a1","s":"BLF–MRD","t":20.17,"v":3.34},{"p":"a1","s":"BLF–MRD","t":20.40,"v":3.87},
{"p":"a1","s":"BLF–MRD","t":20.66,"v":3.30},{"p":"a1","s":"BLF–MRD","t":20.84,"v":3.81},{"p":"a1","s":"BLF–MRD","t":21.08,"v":3.32},{"p":"a1","s":"BLF–MRD","t":21.32,"v":3.79},{"p":"a1","s":"BLF–MRD","t":21.58,"v":3.38},{"p":"a1","s":"BLF–MRD","t":21.76,"v":3.77},{"p":"a1","s":"BLF–MRD","t":22.00,"v":3.75},
{"p":"a2","s":"Uncontrolled","t":88.00,"v":3.50},{"p":"a2","s":"Uncontrolled","t":88.47,"v":3.83},{"p":"a2","s":"Uncontrolled","t":88.75,"v":3.47},{"p":"a2","s":"Uncontrolled","t":89.03,"v":3.83},{"p":"a2","s":"Uncontrolled","t":89.31,"v":3.47},{"p":"a2","s":"Uncontrolled","t":89.59,"v":3.83},{"p":"a2","s":"Uncontrolled","t":89.87,"v":3.47},{"p":"a2","s":"Uncontrolled","t":90.14,"v":3.83},{"p":"a2","s":"Uncontrolled","t":90.42,"v":3.47},{"p":"a2","s":"Uncontrolled","t":90.70,"v":3.83},
{"p":"a2","s":"Uncontrolled","t":90.97,"v":3.47},{"p":"a2","s":"Uncontrolled","t":91.25,"v":3.83},{"p":"a2","s":"Uncontrolled","t":91.52,"v":3.47},{"p":"a2","s":"Uncontrolled","t":91.79,"v":3.83},{"p":"a2","s":"Uncontrolled","t":92.05,"v":3.47},{"p":"a2","s":"Uncontrolled","t":92.32,"v":3.83},{"p":"a2","s":"Uncontrolled","t":92.75,"v":2.9},{"p":"a2","s":"Uncontrolled","t":93.15,"v":4.31},{"p":"a2","s":"Uncontrolled","t":93.40,"v":1.54},{"p":"a2","s":"Uncontrolled","t":93.65,"v":4.88},
{"p":"a2","s":"Uncontrolled","t":93.90,"v":1.0},{"p":"a2","s":"Uncontrolled","t":94.14,"v":5.42},{"p":"a2","s":"Uncontrolled","t":94.40,"v":0.35},{"p":"a2","s":"Uncontrolled","t":94.65,"v":6.04},{"p":"a2","s":"Uncontrolled","t":94.90,"v":-0.18},{"p":"a2","s":"Uncontrolled","t":95.13,"v":6.58},{"p":"a2","s":"Uncontrolled","t":95.37,"v":-0.71},{"p":"a2","s":"Uncontrolled","t":95.61,"v":7.15},{"p":"a2","s":"Uncontrolled","t":95.85,"v":-1.14},{"p":"a2","s":"Uncontrolled","t":96.08,"v":7.70},
{"p":"a2","s":"Uncontrolled","t":96.32,"v":-1.68},{"p":"a2","s":"Uncontrolled","t":96.55,"v":8.24},{"p":"a2","s":"Uncontrolled","t":96.80,"v":-2.1},{"p":"a2","s":"Uncontrolled","t":97.02,"v":8.67},{"p":"a2","s":"Uncontrolled","t":97.25,"v":-2.3},{"p":"a2","s":"Uncontrolled","t":97.48,"v":9.22},{"p":"a2","s":"Uncontrolled","t":97.70,"v":-2.64},{"p":"a2","s":"Uncontrolled","t":97.93,"v":9.65},{"p":"a2","s":"Uncontrolled","t":98.15,"v":-3.0},{"p":"a2","s":"Uncontrolled","t":98.37,"v":10.10},
{"p":"a2","s":"Uncontrolled","t":98.59,"v":-3.38},{"p":"a2","s":"Uncontrolled","t":98.81,"v":10.46},{"p":"a2","s":"Uncontrolled","t":99.03,"v":-3.6},{"p":"a2","s":"Uncontrolled","t":99.25,"v":10.85},{"p":"a2","s":"Uncontrolled","t":99.47,"v":-3.8},{"p":"a2","s":"Uncontrolled","t":99.68,"v":11.19},{"p":"a2","s":"Uncontrolled","t":99.90,"v":-4.2},{"p":"a2","s":"Uncontrolled","t":100.11,"v":11.49},{"p":"a2","s":"Uncontrolled","t":100.33,"v":-4.35},{"p":"a2","s":"Uncontrolled","t":100.54,"v":11.77},
{"p":"a2","s":"Uncontrolled","t":100.76,"v":-4.65},{"p":"a2","s":"Uncontrolled","t":101.0,"v":12.0},
{"p":"a2","s":"BLF–MRD","t":88.00,"v":3.66},{"p":"a2","s":"BLF–MRD","t":92.30,"v":3.66},{"p":"a2","s":"BLF–MRD","t":92.45,"v":3.85},{"p":"a2","s":"BLF–MRD","t":92.70,"v":3.3},{"p":"a2","s":"BLF–MRD","t":93.13,"v":4.14},{"p":"a2","s":"BLF–MRD","t":93.37,"v":2.81},{"p":"a2","s":"BLF–MRD","t":93.61,"v":4.53},{"p":"a2","s":"BLF–MRD","t":93.86,"v":2.28},{"p":"a2","s":"BLF–MRD","t":94.10,"v":4.70},{"p":"a2","s":"BLF–MRD","t":94.35,"v":2.07},
{"p":"a2","s":"BLF–MRD","t":94.60,"v":4.72},{"p":"a2","s":"BLF–MRD","t":94.85,"v":2.07},{"p":"a2","s":"BLF–MRD","t":95.11,"v":4.63},{"p":"a2","s":"BLF–MRD","t":95.33,"v":2.2},{"p":"a2","s":"BLF–MRD","t":95.56,"v":4.50},{"p":"a2","s":"BLF–MRD","t":95.80,"v":2.5},{"p":"a2","s":"BLF–MRD","t":96.05,"v":4.35},{"p":"a2","s":"BLF–MRD","t":96.27,"v":2.6},{"p":"a2","s":"BLF–MRD","t":96.50,"v":4.22},{"p":"a2","s":"BLF–MRD","t":96.74,"v":2.7},
{"p":"a2","s":"BLF–MRD","t":96.98,"v":4.14},{"p":"a2","s":"BLF–MRD","t":97.20,"v":2.87},{"p":"a2","s":"BLF–MRD","t":97.43,"v":4.08},{"p":"a2","s":"BLF–MRD","t":97.66,"v":2.95},{"p":"a2","s":"BLF–MRD","t":97.89,"v":3.96},{"p":"a2","s":"BLF–MRD","t":98.12,"v":3.05},{"p":"a2","s":"BLF–MRD","t":98.35,"v":3.88},{"p":"a2","s":"BLF–MRD","t":98.57,"v":3.17},{"p":"a2","s":"BLF–MRD","t":98.80,"v":3.80},{"p":"a2","s":"BLF–MRD","t":99.00,"v":3.3},
{"p":"a2","s":"BLF–MRD","t":99.21,"v":3.75},{"p":"a2","s":"BLF–MRD","t":99.44,"v":3.35},{"p":"a2","s":"BLF–MRD","t":99.66,"v":3.72},{"p":"a2","s":"BLF–MRD","t":99.88,"v":3.4},{"p":"a2","s":"BLF–MRD","t":100.10,"v":3.70},{"p":"a2","s":"BLF–MRD","t":100.31,"v":3.45},{"p":"a2","s":"BLF–MRD","t":100.52,"v":3.68},{"p":"a2","s":"BLF–MRD","t":100.75,"v":3.5},{"p":"a2","s":"BLF–MRD","t":101.0,"v":3.65},
{"p":"b1","s":"Uncontrolled","t":14.00,"v":3.07},{"p":"b1","s":"Uncontrolled","t":14.18,"v":2.68},{"p":"b1","s":"Uncontrolled","t":14.64,"v":4.69},{"p":"b1","s":"Uncontrolled","t":15.10,"v":2.53},{"p":"b1","s":"Uncontrolled","t":15.54,"v":4.78},{"p":"b1","s":"Uncontrolled","t":15.96,"v":2.51},{"p":"b1","s":"Uncontrolled","t":16.42,"v":4.66},{"p":"b1","s":"Uncontrolled","t":16.93,"v":2.59},{"p":"b1","s":"Uncontrolled","t":17.37,"v":4.81},{"p":"b1","s":"Uncontrolled","t":17.79,"v":2.40},
{"p":"b1","s":"Uncontrolled","t":18.22,"v":4.80},{"p":"b1","s":"Uncontrolled","t":18.66,"v":2.53},{"p":"b1","s":"Uncontrolled","t":19.17,"v":4.84},{"p":"b1","s":"Uncontrolled","t":19.63,"v":2.31},{"p":"b1","s":"Uncontrolled","t":20.05,"v":4.97},{"p":"b1","s":"Uncontrolled","t":20.45,"v":2.34},{"p":"b1","s":"Uncontrolled","t":20.91,"v":4.97},{"p":"b1","s":"Uncontrolled","t":21.37,"v":2.13},{"p":"b1","s":"Uncontrolled","t":21.77,"v":5.12},{"p":"b1","s":"Uncontrolled","t":22.25,"v":2.28},
{"p":"b1","s":"Uncontrolled","t":22.71,"v":5.17},{"p":"b1","s":"Uncontrolled","t":23.15,"v":1.98},{"p":"b1","s":"Uncontrolled","t":23.57,"v":5.13},{"p":"b1","s":"Uncontrolled","t":24.06,"v":1.98},{"p":"b1","s":"Uncontrolled","t":24.45,"v":5.33},{"p":"b1","s":"Uncontrolled","t":24.85,"v":2.08},{"p":"b1","s":"Uncontrolled","t":25.00,"v":2.25},
{"p":"b1","s":"BLF–MRD","t":14.00,"v":3.35},{"p":"b1","s":"BLF–MRD","t":14.44,"v":3.72},{"p":"b1","s":"BLF–MRD","t":14.86,"v":3.32},{"p":"b1","s":"BLF–MRD","t":15.32,"v":3.73},{"p":"b1","s":"BLF–MRD","t":15.74,"v":3.32},{"p":"b1","s":"BLF–MRD","t":16.18,"v":3.72},{"p":"b1","s":"BLF–MRD","t":16.64,"v":3.30},{"p":"b1","s":"BLF–MRD","t":17.12,"v":3.76},{"p":"b1","s":"BLF–MRD","t":17.52,"v":3.29},{"p":"b1","s":"BLF–MRD","t":17.98,"v":3.97},
{"p":"b1","s":"BLF–MRD","t":18.40,"v":2.98},{"p":"b1","s":"BLF–MRD","t":18.80,"v":4.22},{"p":"b1","s":"BLF–MRD","t":19.13,"v":3.10},{"p":"b1","s":"BLF–MRD","t":19.32,"v":2.74},{"p":"b1","s":"BLF–MRD","t":19.68,"v":4.48},{"p":"b1","s":"BLF–MRD","t":19.83,"v":3.53},{"p":"b1","s":"BLF–MRD","t":20.01,"v":4.05},{"p":"b1","s":"BLF–MRD","t":20.23,"v":3.23},{"p":"b1","s":"BLF–MRD","t":20.49,"v":4.15},{"p":"b1","s":"BLF–MRD","t":20.69,"v":3.04},
{"p":"b1","s":"BLF–MRD","t":20.87,"v":3.96},{"p":"b1","s":"BLF–MRD","t":21.04,"v":3.35},{"p":"b1","s":"BLF–MRD","t":21.24,"v":4.15},{"p":"b1","s":"BLF–MRD","t":21.46,"v":3.10},{"p":"b1","s":"BLF–MRD","t":21.64,"v":3.96},{"p":"b1","s":"BLF–MRD","t":21.83,"v":3.41},{"p":"b1","s":"BLF–MRD","t":22.07,"v":4.01},{"p":"b1","s":"BLF–MRD","t":22.29,"v":3.29},{"p":"b1","s":"BLF–MRD","t":22.47,"v":3.84},{"p":"b1","s":"BLF–MRD","t":22.69,"v":3.35},
{"p":"b1","s":"BLF–MRD","t":22.87,"v":3.81},{"p":"b1","s":"BLF–MRD","t":23.07,"v":3.41},{"p":"b1","s":"BLF–MRD","t":23.29,"v":3.81},{"p":"b1","s":"BLF–MRD","t":23.51,"v":3.47},{"p":"b1","s":"BLF–MRD","t":23.72,"v":3.81},{"p":"b1","s":"BLF–MRD","t":23.94,"v":3.53},{"p":"b1","s":"BLF–MRD","t":24.16,"v":3.75},{"p":"b1","s":"BLF–MRD","t":24.39,"v":3.53},{"p":"b1","s":"BLF–MRD","t":24.58,"v":3.68},{"p":"b1","s":"BLF–MRD","t":24.76,"v":3.50},
{"p":"b1","s":"BLF–MRD","t":25.00,"v":3.65},
{"p":"b2","s":"Uncontrolled","t":71.00,"v":3.33},{"p":"b2","s":"Uncontrolled","t":71.28,"v":4.02},{"p":"b2","s":"Uncontrolled","t":71.60,"v":3.24},{"p":"b2","s":"Uncontrolled","t":71.91,"v":4.02},{"p":"b2","s":"Uncontrolled","t":72.22,"v":3.24},{"p":"b2","s":"Uncontrolled","t":72.52,"v":4.02},{"p":"b2","s":"Uncontrolled","t":72.82,"v":3.24},{"p":"b2","s":"Uncontrolled","t":73.12,"v":4.02},{"p":"b2","s":"Uncontrolled","t":73.42,"v":3.24},{"p":"b2","s":"Uncontrolled","t":73.71,"v":4.02},
{"p":"b2","s":"Uncontrolled","t":74.02,"v":3.24},{"p":"b2","s":"Uncontrolled","t":74.32,"v":4.02},{"p":"b2","s":"Uncontrolled","t":74.61,"v":3.24},{"p":"b2","s":"Uncontrolled","t":74.90,"v":4.02},{"p":"b2","s":"Uncontrolled","t":75.20,"v":3.24},{"p":"b2","s":"Uncontrolled","t":75.49,"v":4.02},{"p":"b2","s":"Uncontrolled","t":75.85,"v":3.1},{"p":"b2","s":"Uncontrolled","t":76.35,"v":4.43},{"p":"b2","s":"Uncontrolled","t":76.59,"v":2.41},{"p":"b2","s":"Uncontrolled","t":76.89,"v":4.98},
{"p":"b2","s":"Uncontrolled","t":77.13,"v":2.05},{"p":"b2","s":"Uncontrolled","t":77.39,"v":5.44},{"p":"b2","s":"Uncontrolled","t":77.67,"v":1.41},{"p":"b2","s":"Uncontrolled","t":77.93,"v":5.99},{"p":"b2","s":"Uncontrolled","t":78.22,"v":0.95},{"p":"b2","s":"Uncontrolled","t":78.48,"v":6.53},{"p":"b2","s":"Uncontrolled","t":78.74,"v":0.49},{"p":"b2","s":"Uncontrolled","t":79.02,"v":6.99},{"p":"b2","s":"Uncontrolled","t":79.28,"v":-0.06},{"p":"b2","s":"Uncontrolled","t":79.52,"v":7.45},
{"p":"b2","s":"Uncontrolled","t":79.78,"v":-0.52},{"p":"b2","s":"Uncontrolled","t":80.04,"v":8.09},{"p":"b2","s":"Uncontrolled","t":80.27,"v":-0.97},{"p":"b2","s":"Uncontrolled","t":80.53,"v":8.55},{"p":"b2","s":"Uncontrolled","t":80.79,"v":-1.43},{"p":"b2","s":"Uncontrolled","t":81.03,"v":9.0},{"p":"b2","s":"Uncontrolled","t":81.29,"v":-1.89},{"p":"b2","s":"Uncontrolled","t":81.51,"v":9.37},{"p":"b2","s":"Uncontrolled","t":81.77,"v":-2.35},{"p":"b2","s":"Uncontrolled","t":82.01,"v":9.74},
{"p":"b2","s":"Uncontrolled","t":82.27,"v":-2.71},{"p":"b2","s":"Uncontrolled","t":82.48,"v":10.14},{"p":"b2","s":"Uncontrolled","t":82.74,"v":-3.08},{"p":"b2","s":"Uncontrolled","t":82.96,"v":10.51},{"p":"b2","s":"Uncontrolled","t":83.18,"v":-3.45},{"p":"b2","s":"Uncontrolled","t":83.42,"v":10.84},{"p":"b2","s":"Uncontrolled","t":83.65,"v":-3.54},{"p":"b2","s":"Uncontrolled","t":83.88,"v":10.86},{"p":"b2","s":"Uncontrolled","t":84.0,"v":1.0},
{"p":"b2","s":"BLF–MRD","t":71.00,"v":3.60},{"p":"b2","s":"BLF–MRD","t":75.66,"v":3.60},{"p":"b2","s":"BLF–MRD","t":75.88,"v":3.88},{"p":"b2","s":"BLF–MRD","t":76.10,"v":3.33},{"p":"b2","s":"BLF–MRD","t":76.37,"v":4.15},{"p":"b2","s":"BLF–MRD","t":76.59,"v":2.87},{"p":"b2","s":"BLF–MRD","t":76.85,"v":4.43},{"p":"b2","s":"BLF–MRD","t":77.13,"v":2.41},{"p":"b2","s":"BLF–MRD","t":77.39,"v":4.47},{"p":"b2","s":"BLF–MRD","t":77.67,"v":2.32},
{"p":"b2","s":"BLF–MRD","t":77.93,"v":4.25},{"p":"b2","s":"BLF–MRD","t":78.22,"v":2.32},{"p":"b2","s":"BLF–MRD","t":78.48,"v":4.25},{"p":"b2","s":"BLF–MRD","t":78.74,"v":2.32},{"p":"b2","s":"BLF–MRD","t":79.02,"v":4.06},{"p":"b2","s":"BLF–MRD","t":79.28,"v":2.41},{"p":"b2","s":"BLF–MRD","t":79.52,"v":3.97},{"p":"b2","s":"BLF–MRD","t":79.78,"v":2.41},{"p":"b2","s":"BLF–MRD","t":80.04,"v":3.97},{"p":"b2","s":"BLF–MRD","t":80.27,"v":2.60},
{"p":"b2","s":"BLF–MRD","t":80.53,"v":3.88},{"p":"b2","s":"BLF–MRD","t":80.79,"v":2.69},{"p":"b2","s":"BLF–MRD","t":81.03,"v":3.79},{"p":"b2","s":"BLF–MRD","t":81.29,"v":2.78},{"p":"b2","s":"BLF–MRD","t":81.51,"v":3.84},{"p":"b2","s":"BLF–MRD","t":81.77,"v":2.87},{"p":"b2","s":"BLF–MRD","t":82.01,"v":3.70},{"p":"b2","s":"BLF–MRD","t":82.27,"v":2.96},{"p":"b2","s":"BLF–MRD","t":82.48,"v":3.79},{"p":"b2","s":"BLF–MRD","t":82.74,"v":2.96},
{"p":"b2","s":"BLF–MRD","t":82.96,"v":3.70},{"p":"b2","s":"BLF–MRD","t":83.18,"v":3.05},{"p":"b2","s":"BLF–MRD","t":83.42,"v":3.70},{"p":"b2","s":"BLF–MRD","t":83.65,"v":3.05},{"p":"b2","s":"BLF–MRD","t":84.00,"v":3.42},
{"p":"c1","s":"Uncontrolled","t":18.00,"v":3.17},{"p":"c1","s":"Uncontrolled","t":18.24,"v":4.70},{"p":"c1","s":"Uncontrolled","t":18.71,"v":2.59},{"p":"c1","s":"Uncontrolled","t":19.21,"v":4.78},{"p":"c1","s":"Uncontrolled","t":19.63,"v":2.46},{"p":"c1","s":"Uncontrolled","t":20.05,"v":4.68},{"p":"c1","s":"Uncontrolled","t":20.55,"v":2.43},{"p":"c1","s":"Uncontrolled","t":20.99,"v":4.86},{"p":"c1","s":"Uncontrolled","t":21.43,"v":2.37},{"p":"c1","s":"Uncontrolled","t":21.92,"v":4.98},
{"p":"c1","s":"Uncontrolled","t":22.36,"v":2.10},{"p":"c1","s":"Uncontrolled","t":22.79,"v":4.97},{"p":"c1","s":"Uncontrolled","t":23.28,"v":2.00},{"p":"c1","s":"Uncontrolled","t":23.72,"v":5.21},{"p":"c1","s":"Uncontrolled","t":24.18,"v":2.07},{"p":"c1","s":"Uncontrolled","t":24.62,"v":5.33},{"p":"c1","s":"Uncontrolled","t":25.03,"v":1.98},{"p":"c1","s":"Uncontrolled","t":25.50,"v":5.38},{"p":"c1","s":"Uncontrolled","t":25.93,"v":1.79},{"p":"c1","s":"Uncontrolled","t":26.39,"v":5.41},
{"p":"c1","s":"Uncontrolled","t":26.81,"v":1.67},{"p":"c1","s":"Uncontrolled","t":27.27,"v":5.47},{"p":"c1","s":"Uncontrolled","t":27.69,"v":1.57},{"p":"c1","s":"Uncontrolled","t":28.00,"v":4.42},
{"p":"c1","s":"BLF–MRD","t":18.00,"v":3.72},{"p":"c1","s":"BLF–MRD","t":18.41,"v":3.32},{"p":"c1","s":"BLF–MRD","t":18.88,"v":3.73},{"p":"c1","s":"BLF–MRD","t":19.31,"v":3.29},{"p":"c1","s":"BLF–MRD","t":19.73,"v":3.76},{"p":"c1","s":"BLF–MRD","t":20.11,"v":3.41},{"p":"c1","s":"BLF–MRD","t":20.48,"v":3.81},{"p":"c1","s":"BLF–MRD","t":20.92,"v":3.32},{"p":"c1","s":"BLF–MRD","t":21.38,"v":3.84},{"p":"c1","s":"BLF–MRD","t":21.80,"v":3.41},
{"p":"c1","s":"BLF–MRD","t":22.14,"v":3.67},{"p":"c1","s":"BLF–MRD","t":22.31,"v":3.56},{"p":"c1","s":"BLF–MRD","t":22.65,"v":3.75},{"p":"c1","s":"BLF–MRD","t":22.91,"v":3.53},{"p":"c1","s":"BLF–MRD","t":23.08,"v":3.72},{"p":"c1","s":"BLF–MRD","t":23.25,"v":3.47},{"p":"c1","s":"BLF–MRD","t":23.42,"v":3.86},{"p":"c1","s":"BLF–MRD","t":23.59,"v":3.53},{"p":"c1","s":"BLF–MRD","t":23.84,"v":3.72},{"p":"c1","s":"BLF–MRD","t":23.98,"v":3.41},
{"p":"c1","s":"BLF–MRD","t":24.32,"v":3.87},{"p":"c1","s":"BLF–MRD","t":24.52,"v":3.47},{"p":"c1","s":"BLF–MRD","t":24.69,"v":3.72},{"p":"c1","s":"BLF–MRD","t":24.86,"v":3.35},{"p":"c1","s":"BLF–MRD","t":25.06,"v":3.90},{"p":"c1","s":"BLF–MRD","t":25.33,"v":3.32},{"p":"c1","s":"BLF–MRD","t":25.54,"v":3.72},{"p":"c1","s":"BLF–MRD","t":25.71,"v":3.53},{"p":"c1","s":"BLF–MRD","t":25.84,"v":3.84},{"p":"c1","s":"BLF–MRD","t":26.13,"v":3.38},
{"p":"c1","s":"BLF–MRD","t":26.39,"v":3.78},{"p":"c1","s":"BLF–MRD","t":26.64,"v":3.53},{"p":"c1","s":"BLF–MRD","t":26.86,"v":3.75},{"p":"c1","s":"BLF–MRD","t":27.03,"v":3.53},{"p":"c1","s":"BLF–MRD","t":27.15,"v":3.72},{"p":"c1","s":"BLF–MRD","t":27.44,"v":3.50},{"p":"c1","s":"BLF–MRD","t":27.75,"v":3.72},{"p":"c1","s":"BLF–MRD","t":28.00,"v":3.72},
{"p":"c2","s":"Uncontrolled","t":60.00,"v":4.05},{"p":"c2","s":"Uncontrolled","t":60.10,"v":4.13},{"p":"c2","s":"Uncontrolled","t":60.43,"v":3.15},{"p":"c2","s":"Uncontrolled","t":60.75,"v":4.13},{"p":"c2","s":"Uncontrolled","t":61.09,"v":3.26},{"p":"c2","s":"Uncontrolled","t":61.43,"v":4.13},{"p":"c2","s":"Uncontrolled","t":61.75,"v":3.26},{"p":"c2","s":"Uncontrolled","t":62.08,"v":4.13},{"p":"c2","s":"Uncontrolled","t":62.40,"v":3.26},{"p":"c2","s":"Uncontrolled","t":62.73,"v":4.13},
{"p":"c2","s":"Uncontrolled","t":63.05,"v":3.26},{"p":"c2","s":"Uncontrolled","t":63.36,"v":4.13},{"p":"c2","s":"Uncontrolled","t":63.68,"v":3.26},{"p":"c2","s":"Uncontrolled","t":64.01,"v":4.13},{"p":"c2","s":"Uncontrolled","t":64.42,"v":3.05},{"p":"c2","s":"Uncontrolled","t":64.73,"v":4.48},{"p":"c2","s":"Uncontrolled","t":65.03,"v":2.44},{"p":"c2","s":"Uncontrolled","t":65.34,"v":5.09},{"p":"c2","s":"Uncontrolled","t":65.64,"v":1.93},{"p":"c2","s":"Uncontrolled","t":65.91,"v":5.70},
{"p":"c2","s":"Uncontrolled","t":66.19,"v":1.32},{"p":"c2","s":"Uncontrolled","t":66.50,"v":6.21},{"p":"c2","s":"Uncontrolled","t":66.76,"v":0.82},{"p":"c2","s":"Uncontrolled","t":67.07,"v":6.72},{"p":"c2","s":"Uncontrolled","t":67.33,"v":0.31},{"p":"c2","s":"Uncontrolled","t":67.64,"v":7.33},{"p":"c2","s":"Uncontrolled","t":67.91,"v":-0.30},{"p":"c2","s":"Uncontrolled","t":68.19,"v":7.94},{"p":"c2","s":"Uncontrolled","t":68.44,"v":-0.85},{"p":"c2","s":"Uncontrolled","t":68.74,"v":8.38},
{"p":"c2","s":"Uncontrolled","t":69.01,"v":-1.42},{"p":"c2","s":"Uncontrolled","t":69.25,"v":9.00},{"p":"c2","s":"Uncontrolled","t":69.54,"v":-1.93},{"p":"c2","s":"Uncontrolled","t":69.78,"v":9.40},{"p":"c2","s":"Uncontrolled","t":70.07,"v":-2.40},{"p":"c2","s":"Uncontrolled","t":70.29,"v":9.97},{"p":"c2","s":"Uncontrolled","t":70.57,"v":-2.89},{"p":"c2","s":"Uncontrolled","t":70.84,"v":10.42},{"p":"c2","s":"Uncontrolled","t":71.08,"v":-3.36},{"p":"c2","s":"Uncontrolled","t":71.35,"v":10.83},
{"p":"c2","s":"Uncontrolled","t":71.61,"v":-3.76},{"p":"c2","s":"Uncontrolled","t":71.86,"v":11.23},{"p":"c2","s":"Uncontrolled","t":72.00,"v":1.83},
{"p":"c2","s":"BLF–MRD","t":60.00,"v":3.62},{"p":"c2","s":"BLF–MRD","t":63.95,"v":3.62},{"p":"c2","s":"BLF–MRD","t":64.28,"v":4.07},{"p":"c2","s":"BLF–MRD","t":64.56,"v":2.89},{"p":"c2","s":"BLF–MRD","t":64.83,"v":3.95},{"p":"c2","s":"BLF–MRD","t":65.10,"v":3.00},{"p":"c2","s":"BLF–MRD","t":65.40,"v":4.03},{"p":"c2","s":"BLF–MRD","t":65.70,"v":2.85},{"p":"c2","s":"BLF–MRD","t":66.01,"v":4.03},{"p":"c2","s":"BLF–MRD","t":66.28,"v":2.81},
{"p":"c2","s":"BLF–MRD","t":66.56,"v":4.03},{"p":"c2","s":"BLF–MRD","t":66.85,"v":2.81},{"p":"c2","s":"BLF–MRD","t":67.13,"v":3.97},{"p":"c2","s":"BLF–MRD","t":67.40,"v":2.81},{"p":"c2","s":"BLF–MRD","t":67.68,"v":3.97},{"p":"c2","s":"BLF–MRD","t":67.95,"v":2.85},{"p":"c2","s":"BLF–MRD","t":68.23,"v":3.91},{"p":"c2","s":"BLF–MRD","t":68.50,"v":2.89},{"p":"c2","s":"BLF–MRD","t":68.76,"v":3.91},{"p":"c2","s":"BLF–MRD","t":69.03,"v":2.95},
{"p":"c2","s":"BLF–MRD","t":69.31,"v":3.91},{"p":"c2","s":"BLF–MRD","t":69.57,"v":2.95},{"p":"c2","s":"BLF–MRD","t":69.82,"v":3.87},{"p":"c2","s":"BLF–MRD","t":70.08,"v":3.01},{"p":"c2","s":"BLF–MRD","t":70.33,"v":3.87},{"p":"c2","s":"BLF–MRD","t":70.58,"v":3.05},{"p":"c2","s":"BLF–MRD","t":70.84,"v":3.83},{"p":"c2","s":"BLF–MRD","t":71.10,"v":3.09},{"p":"c2","s":"BLF–MRD","t":71.35,"v":3.87},{"p":"c2","s":"BLF–MRD","t":71.60,"v":3.22},
{"p":"c2","s":"BLF–MRD","t":71.86,"v":3.77},{"p":"c2","s":"BLF–MRD","t":72.00,"v":3.42}
 ]
},
"resolve":{"scale":{"color":"independent"},"legend":{"color":"independent"}},
"vconcat":[
 {"hconcat":[
  {"width":992,"height":764,
   "layer":[
    {"data":{"name":"vl"},"transform":[{"filter":"datum.p=='a'"}],"mark":{"type":"rule","color":"#a0a0a0","strokeWidth":2,"strokeDash":[3,4]},
     "encoding":{"x":{"field":"t","type":"quantitative","scale":{"domain":[0,106.2],"nice":false,"zero":false},"axis":null}}},
    {"data":{"name":"bars"},"transform":[{"filter":"datum.p=='a'"}],"mark":{"type":"rule","color":"#0000ff","strokeWidth":4,"clip":true},
     "encoding":{"x":{"field":"t","type":"quantitative","scale":{"domain":[0,106.2],"nice":false,"zero":false},"axis":{"orient":"bottom","values":[0,20,40,60,80,100],"format":"d","title":"Time (s)","labelFontSize":40,"titleFontSize":44,"tickSize":-12,"labelPadding":28,"titlePadding":11}},
      "y":{"field":"l","type":"quantitative","scale":{"domain":[-0.116,0.17],"nice":false,"zero":false},"axis":{"orient":"left","values":[-0.1,-0.05,0,0.05,0.1,0.15],"format":"~g","title":"η(t)","labelFontSize":40,"titleFontSize":46,"tickSize":-12,"labelPadding":29,"titlePadding":4}},
      "y2":{"field":"h"}}},
    {"data":{"name":"env"},"transform":[{"filter":"datum.p=='a' && datum.s=='b'"}],"mark":{"type":"area","color":"#0000ff","clip":true},
     "encoding":{"x":{"field":"t","type":"quantitative","scale":{"domain":[0,106.2],"nice":false,"zero":false},"axis":null},"y":{"field":"l","type":"quantitative","scale":{"domain":[-0.116,0.17],"nice":false,"zero":false},"axis":null},"y2":{"field":"h"}}},
    {"data":{"name":"env"},"transform":[{"filter":"datum.p=='a' && datum.s!='b'"}],"mark":{"type":"area","color":"#ff0000","clip":true},
     "encoding":{"x":{"field":"t","type":"quantitative","scale":{"domain":[0,106.2],"nice":false,"zero":false},"axis":null},"y":{"field":"l","type":"quantitative","scale":{"domain":[-0.116,0.17],"nice":false,"zero":false},"axis":null},"y2":{"field":"h"},"detail":{"field":"s"}}},
    {"data":{"name":"rl"},"transform":[{"filter":"datum.p=='a'"}],"mark":{"type":"line","strokeWidth":3,"clip":true},
     "encoding":{"x":{"field":"t","type":"quantitative","scale":{"domain":[0,106.2],"nice":false,"zero":false},"axis":{"orient":"top","values":[0,20,40,60,80,100],"labels":false,"title":null,"tickSize":-12}},
      "y":{"field":"v","type":"quantitative","scale":{"domain":[-0.116,0.17],"nice":false,"zero":false},"axis":{"orient":"right","values":[-0.1,-0.05,0,0.05,0.1,0.15],"labels":false,"title":null,"tickSize":-12}},
      "color":{"field":"s","type":"nominal","scale":{"domain":["Uncontrolled","BLF–MRD"],"range":["#0000ff","#ff0000"]},"legend":{"orient":"none","legendX":58,"legendY":27,"title":null,"symbolType":"M-4,0H4","symbolSize":371,"symbolStrokeWidth":4,"labelFontSize":34,"labelOffset":36,"rowPadding":5,"padding":0}}}},
    {"data":{"name":"thr"},"mark":{"type":"rule","color":"#33dd33","strokeWidth":3,"strokeDash":[17,10]},
     "encoding":{"y":{"field":"g","type":"quantitative","scale":{"domain":[-0.116,0.17],"nice":false,"zero":false},"axis":null}}}
   ],
   "resolve":{"axis":{"x":"independent","y":"independent"}}},
  {"width":992,"height":764,
   "layer":[
    {"data":{"name":"vl"},"transform":[{"filter":"datum.p=='b'"}],"mark":{"type":"rule","color":"#a0a0a0","strokeWidth":2,"strokeDash":[3,4]},
     "encoding":{"x":{"field":"t","type":"quantitative","scale":{"domain":[0,92.7],"nice":false,"zero":false},"axis":null}}},
    {"data":{"name":"bars"},"transform":[{"filter":"datum.p=='b'"}],"mark":{"type":"rule","color":"#0000ff","strokeWidth":4,"clip":true},
     "encoding":{"x":{"field":"t","type":"quantitative","scale":{"domain":[0,92.7],"nice":false,"zero":false},"axis":{"orient":"bottom","values":[0,20,40,60,80],"format":"d","title":"Time (s)","labelFontSize":40,"titleFontSize":44,"tickSize":-12,"labelPadding":28,"titlePadding":11}},
      "y":{"field":"l","type":"quantitative","scale":{"domain":[-0.116,0.17],"nice":false,"zero":false},"axis":{"orient":"left","values":[-0.1,-0.05,0,0.05,0.1,0.15],"format":"~g","title":null,"labelFontSize":40,"tickSize":-12,"labelPadding":29}},
      "y2":{"field":"h"}}},
    {"data":{"name":"env"},"transform":[{"filter":"datum.p=='b' && datum.s=='b'"}],"mark":{"type":"area","color":"#0000ff","clip":true},
     "encoding":{"x":{"field":"t","type":"quantitative","scale":{"domain":[0,92.7],"nice":false,"zero":false},"axis":null},"y":{"field":"l","type":"quantitative","scale":{"domain":[-0.116,0.17],"nice":false,"zero":false},"axis":null},"y2":{"field":"h"}}},
    {"data":{"name":"env"},"transform":[{"filter":"datum.p=='b' && datum.s!='b'"}],"mark":{"type":"area","color":"#ff0000","clip":true},
     "encoding":{"x":{"field":"t","type":"quantitative","scale":{"domain":[0,92.7],"nice":false,"zero":false},"axis":null},"y":{"field":"l","type":"quantitative","scale":{"domain":[-0.116,0.17],"nice":false,"zero":false},"axis":null},"y2":{"field":"h"},"detail":{"field":"s"}}},
    {"data":{"name":"rl"},"transform":[{"filter":"datum.p=='b'"}],"mark":{"type":"line","strokeWidth":3,"clip":true},
     "encoding":{"x":{"field":"t","type":"quantitative","scale":{"domain":[0,92.7],"nice":false,"zero":false},"axis":{"orient":"top","values":[0,20,40,60,80],"labels":false,"title":null,"tickSize":-12}},
      "y":{"field":"v","type":"quantitative","scale":{"domain":[-0.116,0.17],"nice":false,"zero":false},"axis":{"orient":"right","values":[-0.1,-0.05,0,0.05,0.1,0.15],"labels":false,"title":null,"tickSize":-12}},
      "color":{"field":"s","type":"nominal","scale":{"domain":["Uncontrolled","BLF–MRD"],"range":["#0000ff","#ff0000"]},"legend":{"orient":"none","legendX":58,"legendY":27,"title":null,"symbolType":"M-4,0H4","symbolSize":371,"symbolStrokeWidth":4,"labelFontSize":34,"labelOffset":36,"rowPadding":5,"padding":0}}}},
    {"data":{"name":"thr"},"mark":{"type":"rule","color":"#33dd33","strokeWidth":3,"strokeDash":[17,10]},
     "encoding":{"y":{"field":"g","type":"quantitative","scale":{"domain":[-0.116,0.17],"nice":false,"zero":false},"axis":null}}}
   ],
   "resolve":{"axis":{"x":"independent","y":"independent"}}},
  {"width":992,"height":764,
   "layer":[
    {"data":{"name":"vl"},"transform":[{"filter":"datum.p=='c'"}],"mark":{"type":"rule","color":"#a0a0a0","strokeWidth":2,"strokeDash":[3,4]},
     "encoding":{"x":{"field":"t","type":"quantitative","scale":{"domain":[0,84],"nice":false,"zero":false},"axis":null}}},
    {"data":{"name":"bars"},"transform":[{"filter":"datum.p=='c'"}],"mark":{"type":"rule","color":"#0000ff","strokeWidth":4,"clip":true},
     "encoding":{"x":{"field":"t","type":"quantitative","scale":{"domain":[0,84],"nice":false,"zero":false},"axis":{"orient":"bottom","values":[0,10,20,30,40,50,60,70,80],"format":"d","title":"Time (s)","labelFontSize":40,"titleFontSize":44,"tickSize":-12,"labelPadding":28,"titlePadding":11}},
      "y":{"field":"l","type":"quantitative","scale":{"domain":[-0.116,0.17],"nice":false,"zero":false},"axis":{"orient":"left","values":[-0.1,-0.05,0,0.05,0.1,0.15],"format":"~g","title":null,"labelFontSize":40,"tickSize":-12,"labelPadding":29}},
      "y2":{"field":"h"}}},
    {"data":{"name":"env"},"transform":[{"filter":"datum.p=='c' && datum.s=='b'"}],"mark":{"type":"area","color":"#0000ff","clip":true},
     "encoding":{"x":{"field":"t","type":"quantitative","scale":{"domain":[0,84],"nice":false,"zero":false},"axis":null},"y":{"field":"l","type":"quantitative","scale":{"domain":[-0.116,0.17],"nice":false,"zero":false},"axis":null},"y2":{"field":"h"}}},
    {"data":{"name":"env"},"transform":[{"filter":"datum.p=='c' && datum.s!='b'"}],"mark":{"type":"area","color":"#ff0000","clip":true},
     "encoding":{"x":{"field":"t","type":"quantitative","scale":{"domain":[0,84],"nice":false,"zero":false},"axis":null},"y":{"field":"l","type":"quantitative","scale":{"domain":[-0.116,0.17],"nice":false,"zero":false},"axis":null},"y2":{"field":"h"},"detail":{"field":"s"}}},
    {"data":{"name":"rl"},"transform":[{"filter":"datum.p=='c'"}],"mark":{"type":"line","strokeWidth":3,"clip":true},
     "encoding":{"x":{"field":"t","type":"quantitative","scale":{"domain":[0,84],"nice":false,"zero":false},"axis":{"orient":"top","values":[0,10,20,30,40,50,60,70,80],"labels":false,"title":null,"tickSize":-12}},
      "y":{"field":"v","type":"quantitative","scale":{"domain":[-0.116,0.17],"nice":false,"zero":false},"axis":{"orient":"right","values":[-0.1,-0.05,0,0.05,0.1,0.15],"labels":false,"title":null,"tickSize":-12}},
      "color":{"field":"s","type":"nominal","scale":{"domain":["Uncontrolled","BLF–MRD"],"range":["#0000ff","#ff0000"]},"legend":{"orient":"none","legendX":58,"legendY":27,"title":null,"symbolType":"M-4,0H4","symbolSize":371,"symbolStrokeWidth":4,"labelFontSize":34,"labelOffset":36,"rowPadding":5,"padding":0}}}},
    {"data":{"name":"thr"},"mark":{"type":"rule","color":"#33dd33","strokeWidth":3,"strokeDash":[17,10]},
     "encoding":{"y":{"field":"g","type":"quantitative","scale":{"domain":[-0.116,0.17],"nice":false,"zero":false},"axis":null}}}
   ],
   "resolve":{"axis":{"x":"independent","y":"independent"}}}
 ],"spacing":203,"bounds":"flush","resolve":{"scale":{"color":"independent"},"legend":{"color":"independent"}}},
 {"hconcat":[
  {"title":{"text":"(a)","orient":"bottom","anchor":"middle","frame":"group","fontSize":84,"fontWeight":"bold","color":"#000000","offset":34,"dx":482},
   "hconcat":[
    {"width":460,"height":546,"title":{"text":"11–22 s","fontSize":27,"offset":-10,"anchor":"middle","frame":"group"},
     "layer":[
      {"data":{"name":"sm"},"transform":[{"filter":"datum.p=='a1' && datum.s=='Uncontrolled'"}],"mark":{"type":"line","strokeWidth":3.5,"interpolate":"monotone","clip":true},
       "encoding":{"x":{"field":"t","type":"quantitative","scale":{"domain":[11,22],"nice":false,"zero":false},"axis":{"orient":"bottom","values":[11,15,18,22],"format":"d","title":"Time (s)","labelFontSize":24,"titleFontSize":28,"tickSize":-7,"labelPadding":18,"titlePadding":4}},
        "y":{"field":"v","type":"quantitative","scale":{"domain":[2,6],"nice":false,"zero":false},"axis":{"orient":"left","values":[2,3,4,5,6],"format":"d","title":"η(t) (%)","labelFontSize":24,"titleFontSize":28,"tickSize":-7,"labelPadding":11,"titlePadding":6}},
        "color":{"field":"s","type":"nominal","scale":{"domain":["Uncontrolled","BLF–MRD"],"range":["#0000ff","#ff0000"]},"legend":{"orient":"none","legendX":55,"legendY":25,"title":null,"symbolType":"M-4,0H4","symbolSize":371,"symbolStrokeWidth":4,"labelFontSize":25,"labelOffset":35,"rowPadding":1,"padding":0}}}},
      {"data":{"name":"sm"},"transform":[{"filter":"datum.p=='a1' && datum.s!='Uncontrolled'"}],"mark":{"type":"line","strokeWidth":3.5,"interpolate":"monotone","clip":true},
       "encoding":{"x":{"field":"t","type":"quantitative","scale":{"domain":[11,22],"nice":false,"zero":false},"axis":{"orient":"top","values":[11,15,18,22],"labels":false,"title":null,"tickSize":-7}},
        "y":{"field":"v","type":"quantitative","scale":{"domain":[2,6],"nice":false,"zero":false},"axis":{"orient":"right","values":[2,3,4,5,6],"labels":false,"title":null,"tickSize":-7}},
        "color":{"field":"s","type":"nominal","scale":{"domain":["Uncontrolled","BLF–MRD"],"range":["#0000ff","#ff0000"]}}}}
     ],
     "resolve":{"axis":{"x":"independent","y":"independent"}}},
    {"width":460,"height":546,"title":{"text":"88–101 s","fontSize":27,"offset":-10,"anchor":"middle","frame":"group"},
     "layer":[
      {"data":{"name":"sm"},"transform":[{"filter":"datum.p=='a2' && datum.s=='Uncontrolled'"}],"mark":{"type":"line","strokeWidth":3.5,"interpolate":"monotone","clip":true},
       "encoding":{"x":{"field":"t","type":"quantitative","scale":{"domain":[88,101],"nice":false,"zero":false},"axis":{"orient":"bottom","values":[88,92,97,101],"format":"d","title":"Time (s)","labelFontSize":24,"titleFontSize":28,"tickSize":-7,"labelPadding":18,"titlePadding":4}},
        "y":{"field":"v","type":"quantitative","scale":{"domain":[-7,14],"nice":false,"zero":false},"axis":{"orient":"left","values":[-7,-2,4,9,14],"labels":false,"title":null,"tickSize":-7}},
        "color":{"field":"s","type":"nominal","scale":{"domain":["Uncontrolled","BLF–MRD"],"range":["#0000ff","#ff0000"]},"legend":null}}},
      {"data":{"name":"sm"},"transform":[{"filter":"datum.p=='a2' && datum.s!='Uncontrolled'"}],"mark":{"type":"line","strokeWidth":3.5,"interpolate":"monotone","clip":true},
       "encoding":{"x":{"field":"t","type":"quantitative","scale":{"domain":[88,101],"nice":false,"zero":false},"axis":{"orient":"top","values":[88,92,97,101],"labels":false,"title":null,"tickSize":-7}},
        "y":{"field":"v","type":"quantitative","scale":{"domain":[-7,14],"nice":false,"zero":false},"axis":{"orient":"right","values":[-7,-2,4,9,14],"format":"d","title":null,"labelFontSize":24,"tickSize":-7,"labelPadding":14}},
        "color":{"field":"s","type":"nominal","scale":{"domain":["Uncontrolled","BLF–MRD"],"range":["#0000ff","#ff0000"]},"legend":null}}}
     ],
     "resolve":{"axis":{"x":"independent","y":"independent"}}}
   ],"spacing":72,"bounds":"flush","resolve":{"scale":{"color":"independent"},"legend":{"color":"independent"}}},
  {"title":{"text":"(b)","orient":"bottom","anchor":"middle","frame":"group","fontSize":84,"fontWeight":"bold","color":"#000000","offset":34,"dx":530},
   "hconcat":[
    {"width":460,"height":546,"title":{"text":"14–25 s","fontSize":27,"offset":-10,"anchor":"middle","frame":"group"},
     "layer":[
      {"data":{"name":"sm"},"transform":[{"filter":"datum.p=='b1' && datum.s=='Uncontrolled'"}],"mark":{"type":"line","strokeWidth":3.5,"interpolate":"monotone","clip":true},
       "encoding":{"x":{"field":"t","type":"quantitative","scale":{"domain":[14,25],"nice":false,"zero":false},"axis":{"orient":"bottom","values":[14,18,21,25],"format":"d","title":"Time (s)","labelFontSize":24,"titleFontSize":28,"tickSize":-7,"labelPadding":18,"titlePadding":4}},
        "y":{"field":"v","type":"quantitative","scale":{"domain":[1,7],"nice":false,"zero":false},"axis":{"orient":"left","values":[1,3,4,6,7],"format":"d","title":null,"labelFontSize":24,"tickSize":-7,"labelPadding":11}},
        "color":{"field":"s","type":"nominal","scale":{"domain":["Uncontrolled","BLF–MRD"],"range":["#0000ff","#ff0000"]},"legend":{"orient":"none","legendX":55,"legendY":25,"title":null,"symbolType":"M-4,0H4","symbolSize":371,"symbolStrokeWidth":4,"labelFontSize":25,"labelOffset":35,"rowPadding":1,"padding":0}}}},
      {"data":{"name":"sm"},"transform":[{"filter":"datum.p=='b1' && datum.s!='Uncontrolled'"}],"mark":{"type":"line","strokeWidth":3.5,"interpolate":"monotone","clip":true},
       "encoding":{"x":{"field":"t","type":"quantitative","scale":{"domain":[14,25],"nice":false,"zero":false},"axis":{"orient":"top","values":[14,18,21,25],"labels":false,"title":null,"tickSize":-7}},
        "y":{"field":"v","type":"quantitative","scale":{"domain":[1,7],"nice":false,"zero":false},"axis":{"orient":"right","values":[1,3,4,6,7],"labels":false,"title":null,"tickSize":-7}},
        "color":{"field":"s","type":"nominal","scale":{"domain":["Uncontrolled","BLF–MRD"],"range":["#0000ff","#ff0000"]}}}}
     ],
     "resolve":{"axis":{"x":"independent","y":"independent"}}},
    {"width":460,"height":546,"title":{"text":"71–84 s","fontSize":27,"offset":-10,"anchor":"middle","frame":"group"},
     "layer":[
      {"data":{"name":"sm"},"transform":[{"filter":"datum.p=='b2' && datum.s=='Uncontrolled'"}],"mark":{"type":"line","strokeWidth":3.5,"interpolate":"monotone","clip":true},
       "encoding":{"x":{"field":"t","type":"quantitative","scale":{"domain":[71,84],"nice":false,"zero":false},"axis":{"orient":"bottom","values":[71,75,80,84],"format":"d","title":"Time (s)","labelFontSize":24,"titleFontSize":28,"tickSize":-7,"labelPadding":18,"titlePadding":4}},
        "y":{"field":"v","type":"quantitative","scale":{"domain":[-5,13],"nice":false,"zero":false},"axis":{"orient":"left","values":[-5,-1,4,9,13],"labels":false,"title":null,"tickSize":-7}},
        "color":{"field":"s","type":"nominal","scale":{"domain":["Uncontrolled","BLF–MRD"],"range":["#0000ff","#ff0000"]},"legend":null}}},
      {"data":{"name":"sm"},"transform":[{"filter":"datum.p=='b2' && datum.s!='Uncontrolled'"}],"mark":{"type":"line","strokeWidth":3.5,"interpolate":"monotone","clip":true},
       "encoding":{"x":{"field":"t","type":"quantitative","scale":{"domain":[71,84],"nice":false,"zero":false},"axis":{"orient":"top","values":[71,75,80,84],"labels":false,"title":null,"tickSize":-7}},
        "y":{"field":"v","type":"quantitative","scale":{"domain":[-5,13],"nice":false,"zero":false},"axis":{"orient":"right","values":[-5,-1,4,9,13],"format":"d","title":null,"labelFontSize":24,"tickSize":-7,"labelPadding":14}},
        "color":{"field":"s","type":"nominal","scale":{"domain":["Uncontrolled","BLF–MRD"],"range":["#0000ff","#ff0000"]},"legend":null}}}
     ],
     "resolve":{"axis":{"x":"independent","y":"independent"}}}
   ],"spacing":72,"bounds":"flush","resolve":{"scale":{"color":"independent"},"legend":{"color":"independent"}}},
  {"title":{"text":"(c)","orient":"bottom","anchor":"middle","frame":"group","fontSize":84,"fontWeight":"bold","color":"#000000","offset":34,"dx":481},
   "hconcat":[
    {"width":460,"height":546,"title":{"text":"18–28 s","fontSize":27,"offset":-10,"anchor":"middle","frame":"group"},
     "layer":[
      {"data":{"name":"sm"},"transform":[{"filter":"datum.p=='c1' && datum.s=='Uncontrolled'"}],"mark":{"type":"line","strokeWidth":3.5,"interpolate":"monotone","clip":true},
       "encoding":{"x":{"field":"t","type":"quantitative","scale":{"domain":[18,28],"nice":false,"zero":false},"axis":{"orient":"bottom","values":[18,21,25,28],"format":"d","title":"Time (s)","labelFontSize":24,"titleFontSize":28,"tickSize":-7,"labelPadding":18,"titlePadding":4}},
        "y":{"field":"v","type":"quantitative","scale":{"domain":[1,7],"nice":false,"zero":false},"axis":{"orient":"left","values":[1,3,4,6,7],"format":"d","title":null,"labelFontSize":24,"tickSize":-7,"labelPadding":11}},
        "color":{"field":"s","type":"nominal","scale":{"domain":["Uncontrolled","BLF–MRD"],"range":["#0000ff","#ff0000"]},"legend":{"orient":"none","legendX":55,"legendY":25,"title":null,"symbolType":"M-4,0H4","symbolSize":371,"symbolStrokeWidth":4,"labelFontSize":25,"labelOffset":35,"rowPadding":1,"padding":0}}}},
      {"data":{"name":"sm"},"transform":[{"filter":"datum.p=='c1' && datum.s!='Uncontrolled'"}],"mark":{"type":"line","strokeWidth":3.5,"interpolate":"monotone","clip":true},
       "encoding":{"x":{"field":"t","type":"quantitative","scale":{"domain":[18,28],"nice":false,"zero":false},"axis":{"orient":"top","values":[18,21,25,28],"labels":false,"title":null,"tickSize":-7}},
        "y":{"field":"v","type":"quantitative","scale":{"domain":[1,7],"nice":false,"zero":false},"axis":{"orient":"right","values":[1,3,4,6,7],"labels":false,"title":null,"tickSize":-7}},
        "color":{"field":"s","type":"nominal","scale":{"domain":["Uncontrolled","BLF–MRD"],"range":["#0000ff","#ff0000"]}}}}
     ],
     "resolve":{"axis":{"x":"independent","y":"independent"}}},
    {"width":460,"height":546,"title":{"text":"60–72 s","fontSize":27,"offset":-10,"anchor":"middle","frame":"group"},
     "layer":[
      {"data":{"name":"sm"},"transform":[{"filter":"datum.p=='c2' && datum.s=='Uncontrolled'"}],"mark":{"type":"line","strokeWidth":3.5,"interpolate":"monotone","clip":true},
       "encoding":{"x":{"field":"t","type":"quantitative","scale":{"domain":[60,72],"nice":false,"zero":false},"axis":{"orient":"bottom","values":[60,64,68,72],"format":"d","title":"Time (s)","labelFontSize":24,"titleFontSize":28,"tickSize":-7,"labelPadding":18,"titlePadding":4}},
        "y":{"field":"v","type":"quantitative","scale":{"domain":[-6,14],"nice":false,"zero":false},"axis":{"orient":"left","values":[-6,-1,4,9,14],"labels":false,"title":null,"tickSize":-7}},
        "color":{"field":"s","type":"nominal","scale":{"domain":["Uncontrolled","BLF–MRD"],"range":["#0000ff","#ff0000"]},"legend":null}}},
      {"data":{"name":"sm"},"transform":[{"filter":"datum.p=='c2' && datum.s!='Uncontrolled'"}],"mark":{"type":"line","strokeWidth":3.5,"interpolate":"monotone","clip":true},
       "encoding":{"x":{"field":"t","type":"quantitative","scale":{"domain":[60,72],"nice":false,"zero":false},"axis":{"orient":"top","values":[60,64,68,72],"labels":false,"title":null,"tickSize":-7}},
        "y":{"field":"v","type":"quantitative","scale":{"domain":[-6,14],"nice":false,"zero":false},"axis":{"orient":"right","values":[-6,-1,4,9,14],"format":"d","title":null,"labelFontSize":24,"tickSize":-7,"labelPadding":14}},
        "color":{"field":"s","type":"nominal","scale":{"domain":["Uncontrolled","BLF–MRD"],"range":["#0000ff","#ff0000"]},"legend":null}}}
     ],
     "resolve":{"axis":{"x":"independent","y":"independent"}}}
   ],"spacing":72,"bounds":"flush","resolve":{"scale":{"color":"independent"},"legend":{"color":"independent"}}}
 ],"spacing":1195,"bounds":"flush","resolve":{"scale":{"color":"independent"},"legend":{"color":"independent"}}}
]
}
